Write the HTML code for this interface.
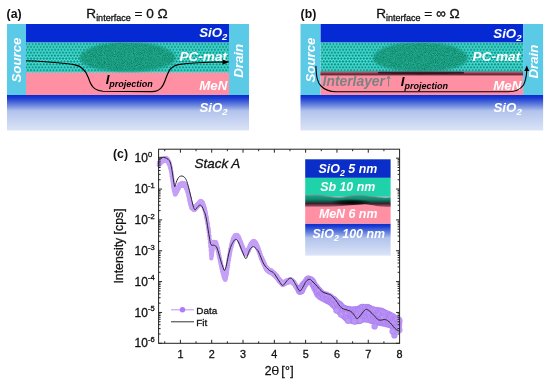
<!DOCTYPE html><html><head><meta charset="utf-8"><style>html,body{margin:0;padding:0;background:#fff;width:550px;height:383px;overflow:hidden}svg{display:block;will-change:transform}.t{stroke:#111;stroke-width:0.3px}</style></head><body>
<svg width="550" height="383" viewBox="0 0 550 383" font-family="Liberation Sans, sans-serif">
<defs>
<pattern id="dots" patternUnits="userSpaceOnUse" x="27.8" y="42.6" width="3.2" height="5.8"><rect width="3.2" height="5.8" fill="#5ee6e4"/><circle cx="1.6" cy="1.4" r="1.2" fill="#009684"/><circle cx="0" cy="4.3" r="1.2" fill="#009684"/><circle cx="3.2" cy="4.3" r="1.2" fill="#009684"/></pattern>
<linearGradient id="sio2" x1="0" y1="0" x2="0" y2="1"><stop offset="0" stop-color="#0a2ccf"/><stop offset="0.08" stop-color="#1a3ad2"/><stop offset="0.25" stop-color="#5a78dc"/><stop offset="0.45" stop-color="#b2c3ec"/><stop offset="1" stop-color="#dbe4f7"/></linearGradient>
<linearGradient id="inter" x1="0" y1="0" x2="0" y2="1"><stop offset="0" stop-color="#8a6478"/><stop offset="0.22" stop-color="#a8566a"/><stop offset="0.5" stop-color="#7a3444"/><stop offset="0.78" stop-color="#5e2836"/><stop offset="1" stop-color="#d07488"/></linearGradient>
<linearGradient id="darkband" x1="0" y1="0" x2="0" y2="1"><stop offset="0" stop-color="#18aa8a"/><stop offset="0.35" stop-color="#12886e"/><stop offset="0.56" stop-color="#0c5646"/><stop offset="0.7" stop-color="#3a2028"/><stop offset="0.85" stop-color="#7a3a50"/><stop offset="1" stop-color="#c06a80"/></linearGradient>
<radialGradient id="darkc" cx="0.5" cy="0.5" r="0.5"><stop offset="0" stop-color="#000" stop-opacity="0.95"/><stop offset="0.5" stop-color="#000" stop-opacity="0.6"/><stop offset="1" stop-color="#000" stop-opacity="0"/></radialGradient>
<filter id="noise" x="-0.05" y="-0.2" width="1.1" height="1.4" color-interpolation-filters="sRGB"><feGaussianBlur in="SourceGraphic" stdDeviation="0.8" result="b"/><feTurbulence type="fractalNoise" baseFrequency="1.1" numOctaves="1" seed="5" result="n"/><feColorMatrix in="n" type="matrix" values="0 0 0 0 0.03  0 0 0 0 0.43  0 0 0 0 0.35  2.2 0 0 0 -0.95" result="d"/><feColorMatrix in="n" type="matrix" values="0 0 0 0 0.2  0 0 0 0 0.74  0 0 0 0 0.62  0 2.2 0 0 -1.05" result="l"/><feComposite in="d" in2="b" operator="in" result="d2"/><feComposite in="l" in2="b" operator="in" result="l2"/><feMerge><feMergeNode in="b"/><feMergeNode in="d2"/><feMergeNode in="l2"/></feMerge></filter>
<marker id="ah" viewBox="0 0 10 10" refX="9" refY="5" markerWidth="6" markerHeight="6" orient="auto-start-reverse" markerUnits="userSpaceOnUse"><path d="M0,0 L10,5 L0,10 z" fill="#000"/></marker>
<clipPath id="tealclip"><rect x="0" y="42.6" width="550" height="30.1"/></clipPath>
</defs>
<rect x="26" y="24" width="203" height="18.6" fill="#052ad4"/>
<rect x="26" y="42.6" width="203" height="30.1" fill="url(#dots)"/>
<rect x="26" y="72.7" width="203" height="22.3" fill="#ff90a4"/>
<rect x="7" y="95" width="242" height="35.5" fill="url(#sio2)"/>
<rect x="7" y="24" width="19" height="71" fill="#5acae6"/>
<rect x="229" y="24" width="20" height="71" fill="#5acae6"/>
<rect x="320.4" y="24" width="202.7" height="18.6" fill="#052ad4"/>
<rect x="320.4" y="42.6" width="202.7" height="29.4" fill="url(#dots)"/>
<rect x="320.4" y="72" width="202.7" height="23" fill="#ff90a4"/>
<rect x="300.5" y="95" width="242.6" height="35.5" fill="url(#sio2)"/>
<rect x="300.5" y="24" width="19.9" height="71" fill="#5acae6"/>
<rect x="523.1" y="24" width="20" height="71" fill="#5acae6"/>
<path d="M79.50,57.90 L80.70,54.88 L81.90,53.51 L83.10,52.45 L84.30,51.56 L85.50,50.79 L86.70,50.09 L87.90,49.47 L89.10,48.89 L90.30,48.36 L91.50,47.87 L92.70,47.42 L93.90,46.99 L95.10,46.59 L96.30,46.22 L97.50,45.87 L98.70,45.54 L99.90,45.23 L101.10,44.94 L102.30,44.67 L103.50,44.41 L104.70,44.17 L105.90,43.95 L107.10,43.74 L108.30,43.54 L109.50,43.36 L110.70,43.20 L111.90,43.04 L113.10,42.90 L114.30,42.77 L115.50,42.65 L116.70,42.55 L117.90,42.45 L119.10,42.37 L120.30,42.30 L121.50,42.24 L122.70,42.19 L123.90,42.15 L125.10,42.12 L126.30,42.11 L127.50,42.10 L128.70,42.11 L129.90,42.12 L131.10,42.15 L132.30,42.19 L133.50,42.24 L134.70,42.30 L135.90,42.37 L137.10,42.45 L138.30,42.55 L139.50,42.65 L140.70,42.77 L141.90,42.90 L143.10,43.04 L144.30,43.20 L145.50,43.36 L146.70,43.54 L147.90,43.74 L149.10,43.95 L150.30,44.17 L151.50,44.41 L152.70,44.67 L153.90,44.94 L155.10,45.23 L156.30,45.54 L157.50,45.87 L158.70,46.22 L159.90,46.59 L161.10,46.99 L162.30,47.42 L163.50,47.87 L164.70,48.36 L165.90,48.89 L167.10,49.47 L168.30,50.09 L169.50,50.79 L170.70,51.56 L171.90,52.45 L173.10,53.51 L174.30,54.88 L175.50,57.90 L175.50,57.90 L174.30,60.97 L173.10,62.21 L171.90,63.14 L170.70,63.92 L169.50,64.58 L168.30,65.17 L167.10,65.70 L165.90,66.18 L164.70,66.62 L163.50,67.03 L162.30,67.40 L161.10,67.76 L159.90,68.08 L158.70,68.39 L157.50,68.67 L156.30,68.94 L155.10,69.19 L153.90,69.43 L152.70,69.65 L151.50,69.85 L150.30,70.04 L149.10,70.22 L147.90,70.39 L146.70,70.55 L145.50,70.69 L144.30,70.83 L143.10,70.95 L141.90,71.06 L140.70,71.17 L139.50,71.26 L138.30,71.35 L137.10,71.42 L135.90,71.49 L134.70,71.54 L133.50,71.59 L132.30,71.60 L131.10,71.60 L129.90,71.60 L128.70,71.60 L127.50,71.60 L126.30,71.60 L125.10,71.60 L123.90,71.60 L122.70,71.60 L121.50,71.59 L120.30,71.54 L119.10,71.49 L117.90,71.42 L116.70,71.35 L115.50,71.26 L114.30,71.17 L113.10,71.06 L111.90,70.95 L110.70,70.83 L109.50,70.69 L108.30,70.55 L107.10,70.39 L105.90,70.22 L104.70,70.04 L103.50,69.85 L102.30,69.65 L101.10,69.43 L99.90,69.19 L98.70,68.94 L97.50,68.67 L96.30,68.39 L95.10,68.08 L93.90,67.76 L92.70,67.40 L91.50,67.03 L90.30,66.62 L89.10,66.18 L87.90,65.70 L86.70,65.17 L85.50,64.58 L84.30,63.92 L83.10,63.14 L81.90,62.21 L80.70,60.97 L79.50,57.90 Z" fill="#1aa084" clip-path="url(#tealclip)" filter="url(#noise)"/>
<path d="M373.30,57.90 L374.48,54.88 L375.66,53.51 L376.84,52.45 L378.02,51.56 L379.20,50.79 L380.38,50.09 L381.56,49.47 L382.74,48.89 L383.92,48.36 L385.10,47.87 L386.28,47.42 L387.46,46.99 L388.64,46.59 L389.82,46.22 L391.00,45.87 L392.18,45.54 L393.36,45.23 L394.54,44.94 L395.72,44.67 L396.90,44.41 L398.08,44.17 L399.26,43.95 L400.44,43.74 L401.62,43.54 L402.80,43.36 L403.98,43.20 L405.16,43.04 L406.34,42.90 L407.52,42.77 L408.70,42.65 L409.88,42.55 L411.06,42.45 L412.24,42.37 L413.42,42.30 L414.60,42.24 L415.78,42.19 L416.96,42.15 L418.14,42.12 L419.32,42.11 L420.50,42.10 L421.68,42.11 L422.86,42.12 L424.04,42.15 L425.22,42.19 L426.40,42.24 L427.58,42.30 L428.76,42.37 L429.94,42.45 L431.12,42.55 L432.30,42.65 L433.48,42.77 L434.66,42.90 L435.84,43.04 L437.02,43.20 L438.20,43.36 L439.38,43.54 L440.56,43.74 L441.74,43.95 L442.92,44.17 L444.10,44.41 L445.28,44.67 L446.46,44.94 L447.64,45.23 L448.82,45.54 L450.00,45.87 L451.18,46.22 L452.36,46.59 L453.54,46.99 L454.72,47.42 L455.90,47.87 L457.08,48.36 L458.26,48.89 L459.44,49.47 L460.62,50.09 L461.80,50.79 L462.98,51.56 L464.16,52.45 L465.34,53.51 L466.52,54.88 L467.70,57.90 L467.70,57.90 L466.52,60.97 L465.34,62.21 L464.16,63.14 L462.98,63.92 L461.80,64.58 L460.62,65.17 L459.44,65.70 L458.26,66.18 L457.08,66.62 L455.90,67.03 L454.72,67.40 L453.54,67.76 L452.36,68.08 L451.18,68.39 L450.00,68.67 L448.82,68.94 L447.64,69.19 L446.46,69.43 L445.28,69.65 L444.10,69.85 L442.92,70.04 L441.74,70.22 L440.56,70.39 L439.38,70.55 L438.20,70.69 L437.02,70.83 L435.84,70.95 L434.66,71.06 L433.48,71.17 L432.30,71.26 L431.12,71.35 L429.94,71.42 L428.76,71.49 L427.58,71.54 L426.40,71.59 L425.22,71.63 L424.04,71.66 L422.86,71.68 L421.68,71.70 L420.50,71.70 L419.32,71.70 L418.14,71.68 L416.96,71.66 L415.78,71.63 L414.60,71.59 L413.42,71.54 L412.24,71.49 L411.06,71.42 L409.88,71.35 L408.70,71.26 L407.52,71.17 L406.34,71.06 L405.16,70.95 L403.98,70.83 L402.80,70.69 L401.62,70.55 L400.44,70.39 L399.26,70.22 L398.08,70.04 L396.90,69.85 L395.72,69.65 L394.54,69.43 L393.36,69.19 L392.18,68.94 L391.00,68.67 L389.82,68.39 L388.64,68.08 L387.46,67.76 L386.28,67.40 L385.10,67.03 L383.92,66.62 L382.74,66.18 L381.56,65.70 L380.38,65.17 L379.20,64.58 L378.02,63.92 L376.84,63.14 L375.66,62.21 L374.48,60.97 L373.30,57.90 Z" fill="#1aa084" clip-path="url(#tealclip)" filter="url(#noise)"/>
<rect x="320.4" y="71.4" width="202.7" height="4.4" fill="url(#inter)"/>
<path d="M378,72 C392,71.8 448,71.8 464,72 L464,73.6 C448,74.4 392,74.4 378,73.6 Z" fill="#1a0a10" opacity="0.75"/>
<text x="199.2" y="37.4" font-size="13.3" font-weight="bold" font-style="italic" fill="#fff">SiO<tspan font-size="9.576" dy="3">2</tspan></text>
<text x="179.4" y="60.6" font-size="13.6" font-weight="bold" font-style="italic" fill="#fff">PC-mat</text>
<text x="199.3" y="90" font-size="13.3" font-weight="bold" font-style="italic" fill="#fff">MeN</text>
<text x="199.4" y="111.8" font-size="13.3" font-weight="bold" font-style="italic" fill="#fff">SiO<tspan font-size="9.576" dy="3">2</tspan></text>
<text transform="translate(20.5,82.6) rotate(-90)" font-size="13.3" font-weight="bold" font-style="italic" fill="#fff">Source</text>
<text transform="translate(243,77.8) rotate(-90)" font-size="13.3" font-weight="bold" font-style="italic" fill="#fff">Drain</text>
<text x="493.3" y="37.6" font-size="13.3" font-weight="bold" font-style="italic" fill="#fff">SiO<tspan font-size="9.576" dy="3">2</tspan></text>
<text x="472.6" y="60.8" font-size="13.6" font-weight="bold" font-style="italic" fill="#fff">PC-mat</text>
<text x="493.3" y="90" font-size="13.3" font-weight="bold" font-style="italic" fill="#fff">MeN</text>
<text x="493.5" y="112.2" font-size="13.3" font-weight="bold" font-style="italic" fill="#fff">SiO<tspan font-size="9.576" dy="3">2</tspan></text>
<text transform="translate(314.5,82.6) rotate(-90)" font-size="13.3" font-weight="bold" font-style="italic" fill="#fff">Source</text>
<text transform="translate(537.8,78.6) rotate(-90)" font-size="13.3" font-weight="bold" font-style="italic" fill="#fff">Drain</text>
<text x="322.6" y="85.8" font-size="13.85" font-weight="bold" font-style="italic" fill="#7c8282">Interlayer</text>
<path d="M388.6,86.5 L388.6,76.5 M386.9,79 L388.6,75.8 L390.3,79" stroke="#7c8282" stroke-width="1" fill="none"/>
<text x="105.65" y="83.8" font-size="13.3" font-weight="bold" font-style="italic" fill="#000">I<tspan font-size="9.0" dy="3.1">projection</tspan></text>
<text x="400.7" y="85.9" font-size="13.3" font-weight="bold" font-style="italic" fill="#000">I<tspan font-size="9.0" dy="3">projection</tspan></text>
<path d="M26,60.8 C45,61.6 64,63 74,64.6 C82,66 86,70 88.5,78 C91,86 94,90.6 103,91.2 L152,91.6 C160,91.4 163,87 166,78 C169,70 171,66.2 178,64.6 C190,63 208,62.2 224,62" stroke="#000" stroke-width="1.15" fill="none"/>
<path d="M222.5,59.4 L229.6,62 L222.5,64.6 z" fill="#000"/>
<path d="M315.9,66 C316.3,76 317,82 321,86 C324,89.2 328,91.6 336,91.8 L508,91.8 C516,91.8 520,90 523.5,85 C526,80 526.6,75 526.8,70" stroke="#000" stroke-width="1.1" fill="none"/>
<path d="M524.3,71 L526.8,65.6 L529.2,71 z" fill="#000"/>
<text x="6.6" y="18.4" font-size="12.3" font-weight="bold" fill="#111">(a)</text>
<text x="300.6" y="18.4" font-size="12.3" font-weight="bold" fill="#111">(b)</text>
<text x="86.3" y="17.8" font-size="13.6" fill="#111" class="t">R<tspan font-size="9" dy="2.7">interface</tspan><tspan dy="-2.7"> = 0 Ω</tspan></text>
<text x="376.2" y="17.8" font-size="13.6" fill="#111" class="t">R<tspan font-size="9" dy="2.7">interface</tspan><tspan dy="-2.7"> = ∞ Ω</tspan></text>
<g fill="#c5a0f7">
<circle cx="158.8" cy="162.9" r="2.1"/>
<circle cx="158.8" cy="165.3" r="2.1"/>
<circle cx="159.2" cy="162.5" r="2.1"/>
<circle cx="159.2" cy="164.9" r="2.1"/>
<circle cx="159.5" cy="162.1" r="2.1"/>
<circle cx="159.5" cy="164.5" r="2.1"/>
<circle cx="159.8" cy="161.7" r="2.1"/>
<circle cx="159.8" cy="164.1" r="2.1"/>
<circle cx="160.2" cy="161.3" r="2.1"/>
<circle cx="160.2" cy="163.7" r="2.1"/>
<circle cx="160.5" cy="160.9" r="2.1"/>
<circle cx="160.5" cy="163.3" r="2.1"/>
<circle cx="160.9" cy="160.5" r="2.1"/>
<circle cx="160.9" cy="162.9" r="2.1"/>
<circle cx="161.2" cy="160.1" r="2.1"/>
<circle cx="161.2" cy="162.5" r="2.1"/>
<circle cx="161.6" cy="159.7" r="2.1"/>
<circle cx="161.6" cy="162.1" r="2.1"/>
<circle cx="161.9" cy="159.6" r="2.1"/>
<circle cx="161.9" cy="162.0" r="2.1"/>
<circle cx="162.3" cy="159.4" r="2.1"/>
<circle cx="162.3" cy="161.8" r="2.1"/>
<circle cx="162.6" cy="159.2" r="2.1"/>
<circle cx="162.6" cy="161.6" r="2.1"/>
<circle cx="163.0" cy="159.0" r="2.1"/>
<circle cx="163.0" cy="161.4" r="2.1"/>
<circle cx="163.3" cy="158.8" r="2.1"/>
<circle cx="163.3" cy="161.2" r="2.1"/>
<circle cx="163.7" cy="158.7" r="2.1"/>
<circle cx="163.7" cy="161.1" r="2.1"/>
<circle cx="164.0" cy="158.5" r="2.1"/>
<circle cx="164.0" cy="160.9" r="2.1"/>
<circle cx="164.4" cy="158.3" r="2.1"/>
<circle cx="164.4" cy="160.7" r="2.1"/>
<circle cx="164.7" cy="158.1" r="2.1"/>
<circle cx="164.7" cy="160.5" r="2.1"/>
<circle cx="165.1" cy="158.0" r="2.1"/>
<circle cx="165.1" cy="160.4" r="2.1"/>
<circle cx="165.4" cy="158.1" r="2.1"/>
<circle cx="165.4" cy="160.5" r="2.1"/>
<circle cx="165.8" cy="158.3" r="2.1"/>
<circle cx="165.8" cy="160.7" r="2.1"/>
<circle cx="166.1" cy="158.4" r="2.1"/>
<circle cx="166.1" cy="160.8" r="2.1"/>
<circle cx="166.5" cy="158.5" r="2.1"/>
<circle cx="166.5" cy="160.9" r="2.1"/>
<circle cx="166.8" cy="158.6" r="2.1"/>
<circle cx="166.8" cy="161.0" r="2.1"/>
<circle cx="167.2" cy="158.7" r="2.1"/>
<circle cx="167.2" cy="161.1" r="2.1"/>
<circle cx="167.5" cy="158.9" r="2.1"/>
<circle cx="167.5" cy="161.3" r="2.1"/>
<circle cx="167.9" cy="159.6" r="2.1"/>
<circle cx="167.9" cy="162.0" r="2.1"/>
<circle cx="168.2" cy="160.3" r="2.1"/>
<circle cx="168.2" cy="162.7" r="2.1"/>
<circle cx="168.6" cy="161.0" r="2.1"/>
<circle cx="168.6" cy="163.4" r="2.1"/>
<circle cx="168.9" cy="161.7" r="2.1"/>
<circle cx="168.9" cy="164.1" r="2.1"/>
<circle cx="169.3" cy="162.4" r="2.1"/>
<circle cx="169.3" cy="164.8" r="2.1"/>
<circle cx="169.6" cy="163.4" r="2.1"/>
<circle cx="169.6" cy="165.8" r="2.1"/>
<circle cx="170.0" cy="164.8" r="2.1"/>
<circle cx="170.0" cy="167.2" r="2.1"/>
<circle cx="170.3" cy="166.2" r="2.1"/>
<circle cx="170.3" cy="168.6" r="2.1"/>
<circle cx="170.7" cy="167.6" r="2.1"/>
<circle cx="170.7" cy="170.0" r="2.1"/>
<circle cx="171.0" cy="169.1" r="2.1"/>
<circle cx="171.0" cy="171.5" r="2.1"/>
<circle cx="171.4" cy="171.5" r="2.1"/>
<circle cx="171.4" cy="173.9" r="2.1"/>
<circle cx="171.7" cy="173.8" r="2.1"/>
<circle cx="171.7" cy="176.2" r="2.1"/>
<circle cx="172.1" cy="176.1" r="2.1"/>
<circle cx="172.1" cy="178.5" r="2.1"/>
<circle cx="172.4" cy="178.7" r="2.1"/>
<circle cx="172.4" cy="181.1" r="2.1"/>
<circle cx="172.8" cy="181.4" r="2.1"/>
<circle cx="172.8" cy="183.8" r="2.1"/>
<circle cx="173.1" cy="184.1" r="2.1"/>
<circle cx="173.1" cy="186.5" r="2.1"/>
<circle cx="173.5" cy="186.1" r="2.1"/>
<circle cx="173.5" cy="188.5" r="2.1"/>
<circle cx="173.8" cy="187.5" r="2.1"/>
<circle cx="173.8" cy="189.9" r="2.1"/>
<circle cx="174.2" cy="188.9" r="2.1"/>
<circle cx="174.2" cy="191.3" r="2.1"/>
<circle cx="174.5" cy="190.4" r="2.1"/>
<circle cx="174.5" cy="192.8" r="2.1"/>
<circle cx="174.9" cy="191.8" r="2.1"/>
<circle cx="174.9" cy="194.2" r="2.1"/>
<circle cx="175.2" cy="192.3" r="2.1"/>
<circle cx="175.2" cy="194.7" r="2.1"/>
<circle cx="175.6" cy="191.7" r="2.1"/>
<circle cx="175.6" cy="194.1" r="2.1"/>
<circle cx="175.9" cy="191.1" r="2.1"/>
<circle cx="175.9" cy="193.5" r="2.1"/>
<circle cx="176.3" cy="190.5" r="2.1"/>
<circle cx="176.3" cy="192.9" r="2.1"/>
<circle cx="176.6" cy="189.9" r="2.1"/>
<circle cx="176.6" cy="192.3" r="2.1"/>
<circle cx="177.0" cy="189.3" r="2.1"/>
<circle cx="177.0" cy="191.7" r="2.1"/>
<circle cx="177.3" cy="188.6" r="2.1"/>
<circle cx="177.3" cy="191.0" r="2.1"/>
<circle cx="177.7" cy="187.9" r="2.1"/>
<circle cx="177.7" cy="190.3" r="2.1"/>
<circle cx="178.0" cy="187.2" r="2.1"/>
<circle cx="178.0" cy="189.6" r="2.1"/>
<circle cx="178.4" cy="186.5" r="2.1"/>
<circle cx="178.4" cy="188.9" r="2.1"/>
<circle cx="178.7" cy="185.8" r="2.1"/>
<circle cx="178.7" cy="188.2" r="2.1"/>
<circle cx="179.1" cy="185.1" r="2.1"/>
<circle cx="179.1" cy="187.5" r="2.1"/>
<circle cx="179.4" cy="184.4" r="2.1"/>
<circle cx="179.4" cy="186.8" r="2.1"/>
<circle cx="179.8" cy="184.2" r="2.1"/>
<circle cx="179.8" cy="186.6" r="2.1"/>
<circle cx="180.1" cy="184.0" r="2.1"/>
<circle cx="180.1" cy="186.4" r="2.1"/>
<circle cx="180.5" cy="183.8" r="2.1"/>
<circle cx="180.5" cy="186.2" r="2.1"/>
<circle cx="180.8" cy="183.6" r="2.1"/>
<circle cx="180.8" cy="186.0" r="2.1"/>
<circle cx="181.2" cy="183.5" r="2.1"/>
<circle cx="181.2" cy="185.9" r="2.1"/>
<circle cx="181.5" cy="183.3" r="2.1"/>
<circle cx="181.5" cy="185.7" r="2.1"/>
<circle cx="181.9" cy="183.1" r="2.1"/>
<circle cx="181.9" cy="185.5" r="2.1"/>
<circle cx="182.2" cy="182.9" r="2.1"/>
<circle cx="182.2" cy="185.3" r="2.1"/>
<circle cx="182.6" cy="182.8" r="2.1"/>
<circle cx="182.6" cy="185.2" r="2.1"/>
<circle cx="182.9" cy="183.0" r="2.1"/>
<circle cx="182.9" cy="185.4" r="2.1"/>
<circle cx="183.3" cy="183.1" r="2.1"/>
<circle cx="183.3" cy="185.5" r="2.1"/>
<circle cx="183.6" cy="183.3" r="2.1"/>
<circle cx="183.6" cy="185.7" r="2.1"/>
<circle cx="184.0" cy="183.4" r="2.1"/>
<circle cx="184.0" cy="185.8" r="2.1"/>
<circle cx="184.3" cy="183.5" r="2.1"/>
<circle cx="184.3" cy="185.9" r="2.1"/>
<circle cx="184.7" cy="183.7" r="2.1"/>
<circle cx="184.7" cy="186.1" r="2.1"/>
<circle cx="185.0" cy="183.9" r="2.1"/>
<circle cx="185.0" cy="186.3" r="2.1"/>
<circle cx="185.4" cy="184.6" r="2.1"/>
<circle cx="185.4" cy="187.0" r="2.1"/>
<circle cx="185.7" cy="185.3" r="2.1"/>
<circle cx="185.7" cy="187.7" r="2.1"/>
<circle cx="186.1" cy="186.0" r="2.1"/>
<circle cx="186.1" cy="188.4" r="2.1"/>
<circle cx="186.4" cy="186.7" r="2.1"/>
<circle cx="186.4" cy="189.1" r="2.1"/>
<circle cx="186.8" cy="187.4" r="2.1"/>
<circle cx="186.8" cy="189.8" r="2.1"/>
<circle cx="187.1" cy="188.4" r="2.1"/>
<circle cx="187.1" cy="190.8" r="2.1"/>
<circle cx="187.5" cy="189.8" r="2.1"/>
<circle cx="187.5" cy="192.2" r="2.1"/>
<circle cx="187.8" cy="191.2" r="2.1"/>
<circle cx="187.8" cy="193.6" r="2.1"/>
<circle cx="188.2" cy="192.6" r="2.1"/>
<circle cx="188.2" cy="195.0" r="2.1"/>
<circle cx="188.5" cy="194.0" r="2.1"/>
<circle cx="188.5" cy="196.4" r="2.1"/>
<circle cx="188.9" cy="195.7" r="2.1"/>
<circle cx="188.9" cy="198.1" r="2.1"/>
<circle cx="189.2" cy="197.3" r="2.1"/>
<circle cx="189.2" cy="199.7" r="2.1"/>
<circle cx="189.6" cy="198.9" r="2.1"/>
<circle cx="189.6" cy="201.3" r="2.1"/>
<circle cx="189.9" cy="200.6" r="2.1"/>
<circle cx="189.9" cy="203.0" r="2.1"/>
<circle cx="190.3" cy="201.8" r="2.1"/>
<circle cx="190.3" cy="204.2" r="2.1"/>
<circle cx="190.6" cy="203.0" r="2.1"/>
<circle cx="190.6" cy="205.4" r="2.1"/>
<circle cx="191.0" cy="204.1" r="2.1"/>
<circle cx="191.0" cy="206.5" r="2.1"/>
<circle cx="191.3" cy="205.3" r="2.1"/>
<circle cx="191.3" cy="207.7" r="2.1"/>
<circle cx="191.7" cy="205.9" r="2.1"/>
<circle cx="191.7" cy="208.3" r="2.1"/>
<circle cx="192.0" cy="206.2" r="2.1"/>
<circle cx="192.0" cy="208.6" r="2.1"/>
<circle cx="192.4" cy="206.4" r="2.1"/>
<circle cx="192.4" cy="208.8" r="2.1"/>
<circle cx="192.7" cy="206.7" r="2.1"/>
<circle cx="192.7" cy="209.1" r="2.1"/>
<circle cx="193.1" cy="206.9" r="2.1"/>
<circle cx="193.1" cy="209.3" r="2.1"/>
<circle cx="193.4" cy="207.1" r="2.1"/>
<circle cx="193.4" cy="209.5" r="2.1"/>
<circle cx="193.8" cy="207.4" r="2.1"/>
<circle cx="193.8" cy="209.8" r="2.1"/>
<circle cx="194.1" cy="207.6" r="2.1"/>
<circle cx="194.1" cy="210.0" r="2.1"/>
<circle cx="194.5" cy="207.7" r="2.1"/>
<circle cx="194.5" cy="210.1" r="2.1"/>
<circle cx="194.8" cy="207.3" r="2.1"/>
<circle cx="194.8" cy="209.7" r="2.1"/>
<circle cx="195.2" cy="206.9" r="2.1"/>
<circle cx="195.2" cy="209.3" r="2.1"/>
<circle cx="195.5" cy="206.5" r="2.1"/>
<circle cx="195.5" cy="208.9" r="2.1"/>
<circle cx="195.9" cy="206.1" r="2.1"/>
<circle cx="195.9" cy="208.5" r="2.1"/>
<circle cx="196.2" cy="205.7" r="2.1"/>
<circle cx="196.2" cy="208.1" r="2.1"/>
<circle cx="196.6" cy="205.3" r="2.1"/>
<circle cx="196.6" cy="207.7" r="2.1"/>
<circle cx="196.9" cy="204.9" r="2.1"/>
<circle cx="196.9" cy="207.3" r="2.1"/>
<circle cx="197.3" cy="204.5" r="2.1"/>
<circle cx="197.3" cy="206.9" r="2.1"/>
<circle cx="197.6" cy="204.1" r="2.1"/>
<circle cx="197.6" cy="206.5" r="2.1"/>
<circle cx="198.0" cy="203.8" r="2.1"/>
<circle cx="198.0" cy="206.2" r="2.1"/>
<circle cx="198.3" cy="203.4" r="2.1"/>
<circle cx="198.3" cy="205.8" r="2.1"/>
<circle cx="198.7" cy="203.0" r="2.1"/>
<circle cx="198.7" cy="205.4" r="2.1"/>
<circle cx="199.0" cy="202.6" r="2.1"/>
<circle cx="199.0" cy="205.0" r="2.1"/>
<circle cx="199.4" cy="202.2" r="2.1"/>
<circle cx="199.4" cy="204.6" r="2.1"/>
<circle cx="199.7" cy="201.8" r="2.1"/>
<circle cx="199.7" cy="204.2" r="2.1"/>
<circle cx="200.1" cy="201.5" r="2.1"/>
<circle cx="200.1" cy="203.9" r="2.1"/>
<circle cx="200.4" cy="201.1" r="2.1"/>
<circle cx="200.4" cy="203.5" r="2.1"/>
<circle cx="200.8" cy="200.9" r="2.1"/>
<circle cx="200.8" cy="203.3" r="2.1"/>
<circle cx="201.1" cy="201.2" r="2.1"/>
<circle cx="201.1" cy="203.6" r="2.1"/>
<circle cx="201.5" cy="201.5" r="2.1"/>
<circle cx="201.5" cy="203.9" r="2.1"/>
<circle cx="201.8" cy="201.8" r="2.1"/>
<circle cx="201.8" cy="204.2" r="2.1"/>
<circle cx="202.2" cy="202.1" r="2.1"/>
<circle cx="202.2" cy="204.5" r="2.1"/>
<circle cx="202.5" cy="202.4" r="2.1"/>
<circle cx="202.5" cy="204.8" r="2.1"/>
<circle cx="202.9" cy="202.7" r="2.1"/>
<circle cx="202.9" cy="205.1" r="2.1"/>
<circle cx="203.2" cy="203.5" r="2.1"/>
<circle cx="203.2" cy="205.9" r="2.1"/>
<circle cx="203.6" cy="204.6" r="2.1"/>
<circle cx="203.6" cy="207.0" r="2.1"/>
<circle cx="203.9" cy="205.6" r="2.1"/>
<circle cx="203.9" cy="208.0" r="2.1"/>
<circle cx="204.3" cy="206.7" r="2.1"/>
<circle cx="204.3" cy="209.1" r="2.1"/>
<circle cx="204.6" cy="207.7" r="2.1"/>
<circle cx="204.6" cy="210.1" r="2.1"/>
<circle cx="205.0" cy="208.8" r="2.1"/>
<circle cx="205.0" cy="211.2" r="2.1"/>
<circle cx="205.3" cy="210.5" r="2.1"/>
<circle cx="205.3" cy="212.9" r="2.1"/>
<circle cx="205.7" cy="212.3" r="2.1"/>
<circle cx="205.7" cy="214.7" r="2.1"/>
<circle cx="206.0" cy="214.0" r="2.1"/>
<circle cx="206.0" cy="216.4" r="2.1"/>
<circle cx="206.4" cy="215.8" r="2.1"/>
<circle cx="206.4" cy="218.2" r="2.1"/>
<circle cx="206.7" cy="217.5" r="2.1"/>
<circle cx="206.7" cy="219.9" r="2.1"/>
<circle cx="207.1" cy="219.4" r="2.1"/>
<circle cx="207.1" cy="221.8" r="2.1"/>
<circle cx="207.4" cy="221.5" r="2.1"/>
<circle cx="207.4" cy="223.9" r="2.1"/>
<circle cx="207.8" cy="223.6" r="2.1"/>
<circle cx="207.8" cy="226.0" r="2.1"/>
<circle cx="208.1" cy="225.7" r="2.1"/>
<circle cx="208.1" cy="228.1" r="2.1"/>
<circle cx="208.5" cy="227.8" r="2.1"/>
<circle cx="208.5" cy="230.2" r="2.1"/>
<circle cx="208.8" cy="229.9" r="2.1"/>
<circle cx="208.8" cy="232.3" r="2.1"/>
<circle cx="209.2" cy="232.8" r="2.1"/>
<circle cx="209.2" cy="235.2" r="2.1"/>
<circle cx="209.5" cy="236.3" r="2.1"/>
<circle cx="209.5" cy="238.7" r="2.1"/>
<circle cx="209.9" cy="239.8" r="2.1"/>
<circle cx="209.9" cy="242.2" r="2.1"/>
<circle cx="210.2" cy="243.3" r="2.1"/>
<circle cx="210.2" cy="245.7" r="2.1"/>
<circle cx="210.6" cy="247.3" r="2.1"/>
<circle cx="210.6" cy="249.7" r="2.1"/>
<circle cx="210.9" cy="251.6" r="2.1"/>
<circle cx="210.9" cy="254.0" r="2.1"/>
<circle cx="211.3" cy="256.0" r="2.1"/>
<circle cx="211.3" cy="258.4" r="2.1"/>
<circle cx="211.6" cy="254.2" r="2.1"/>
<circle cx="211.6" cy="256.6" r="2.1"/>
<circle cx="212.0" cy="252.4" r="2.1"/>
<circle cx="212.0" cy="254.8" r="2.1"/>
<circle cx="212.3" cy="250.4" r="2.1"/>
<circle cx="212.3" cy="252.8" r="2.1"/>
<circle cx="212.7" cy="247.8" r="2.1"/>
<circle cx="212.7" cy="250.2" r="2.1"/>
<circle cx="213.0" cy="245.2" r="2.1"/>
<circle cx="213.0" cy="247.6" r="2.1"/>
<circle cx="213.4" cy="242.6" r="2.1"/>
<circle cx="213.4" cy="245.0" r="2.1"/>
<circle cx="213.7" cy="241.8" r="2.1"/>
<circle cx="213.7" cy="244.2" r="2.1"/>
<circle cx="214.1" cy="241.9" r="2.1"/>
<circle cx="214.1" cy="244.3" r="2.1"/>
<circle cx="214.4" cy="242.0" r="2.1"/>
<circle cx="214.4" cy="244.4" r="2.1"/>
<circle cx="214.8" cy="242.0" r="2.1"/>
<circle cx="214.8" cy="244.4" r="2.1"/>
<circle cx="215.1" cy="242.1" r="2.1"/>
<circle cx="215.1" cy="244.5" r="2.1"/>
<circle cx="215.5" cy="242.2" r="2.1"/>
<circle cx="215.5" cy="244.6" r="2.1"/>
<circle cx="215.8" cy="242.3" r="2.1"/>
<circle cx="215.8" cy="244.7" r="2.1"/>
<circle cx="216.2" cy="242.6" r="2.1"/>
<circle cx="216.2" cy="245.0" r="2.1"/>
<circle cx="216.5" cy="243.8" r="2.1"/>
<circle cx="216.5" cy="246.2" r="2.1"/>
<circle cx="216.9" cy="245.0" r="2.1"/>
<circle cx="216.9" cy="247.4" r="2.1"/>
<circle cx="217.2" cy="246.2" r="2.1"/>
<circle cx="217.2" cy="248.6" r="2.1"/>
<circle cx="217.6" cy="247.4" r="2.1"/>
<circle cx="217.6" cy="249.8" r="2.1"/>
<circle cx="217.9" cy="248.6" r="2.1"/>
<circle cx="217.9" cy="251.0" r="2.1"/>
<circle cx="218.3" cy="250.3" r="2.1"/>
<circle cx="218.3" cy="252.7" r="2.1"/>
<circle cx="218.6" cy="252.0" r="2.1"/>
<circle cx="218.6" cy="254.4" r="2.1"/>
<circle cx="219.0" cy="253.8" r="2.1"/>
<circle cx="219.0" cy="256.2" r="2.1"/>
<circle cx="219.3" cy="255.5" r="2.1"/>
<circle cx="219.3" cy="257.9" r="2.1"/>
<circle cx="219.7" cy="257.3" r="2.1"/>
<circle cx="219.7" cy="259.7" r="2.1"/>
<circle cx="220.0" cy="259.0" r="2.1"/>
<circle cx="220.0" cy="261.4" r="2.1"/>
<circle cx="220.4" cy="260.6" r="2.1"/>
<circle cx="220.4" cy="263.0" r="2.1"/>
<circle cx="220.7" cy="262.2" r="2.1"/>
<circle cx="220.7" cy="264.6" r="2.1"/>
<circle cx="221.1" cy="263.7" r="2.1"/>
<circle cx="221.1" cy="266.1" r="2.1"/>
<circle cx="221.4" cy="265.3" r="2.1"/>
<circle cx="221.4" cy="267.7" r="2.1"/>
<circle cx="221.8" cy="266.9" r="2.1"/>
<circle cx="221.8" cy="269.3" r="2.1"/>
<circle cx="222.1" cy="268.4" r="2.1"/>
<circle cx="222.1" cy="270.8" r="2.1"/>
<circle cx="222.5" cy="269.7" r="2.1"/>
<circle cx="222.5" cy="272.1" r="2.1"/>
<circle cx="222.8" cy="271.0" r="2.1"/>
<circle cx="222.8" cy="273.4" r="2.1"/>
<circle cx="223.2" cy="272.3" r="2.1"/>
<circle cx="223.2" cy="274.7" r="2.1"/>
<circle cx="223.5" cy="273.6" r="2.1"/>
<circle cx="223.5" cy="276.0" r="2.1"/>
<circle cx="223.9" cy="274.9" r="2.1"/>
<circle cx="223.9" cy="277.3" r="2.1"/>
<circle cx="224.2" cy="275.7" r="2.1"/>
<circle cx="224.2" cy="278.1" r="2.1"/>
<circle cx="224.6" cy="276.4" r="2.1"/>
<circle cx="224.6" cy="278.8" r="2.1"/>
<circle cx="224.9" cy="277.0" r="2.1"/>
<circle cx="224.9" cy="279.4" r="2.1"/>
<circle cx="225.3" cy="277.6" r="2.1"/>
<circle cx="225.3" cy="280.0" r="2.1"/>
<circle cx="225.6" cy="276.7" r="2.1"/>
<circle cx="225.6" cy="279.1" r="2.1"/>
<circle cx="226.0" cy="275.2" r="2.1"/>
<circle cx="226.0" cy="277.6" r="2.1"/>
<circle cx="226.3" cy="273.7" r="2.1"/>
<circle cx="226.3" cy="276.1" r="2.1"/>
<circle cx="226.7" cy="272.2" r="2.1"/>
<circle cx="226.7" cy="274.6" r="2.1"/>
<circle cx="227.0" cy="270.1" r="2.1"/>
<circle cx="227.0" cy="272.5" r="2.1"/>
<circle cx="227.4" cy="267.7" r="2.1"/>
<circle cx="227.4" cy="270.1" r="2.1"/>
<circle cx="227.7" cy="265.3" r="2.1"/>
<circle cx="227.7" cy="267.7" r="2.1"/>
<circle cx="228.1" cy="262.9" r="2.1"/>
<circle cx="228.1" cy="265.3" r="2.1"/>
<circle cx="228.4" cy="260.6" r="2.1"/>
<circle cx="228.4" cy="263.0" r="2.1"/>
<circle cx="228.8" cy="258.2" r="2.1"/>
<circle cx="228.8" cy="260.6" r="2.1"/>
<circle cx="229.1" cy="256.0" r="2.1"/>
<circle cx="229.1" cy="258.4" r="2.1"/>
<circle cx="229.5" cy="254.1" r="2.1"/>
<circle cx="229.5" cy="256.5" r="2.1"/>
<circle cx="229.8" cy="252.1" r="2.1"/>
<circle cx="229.8" cy="254.5" r="2.1"/>
<circle cx="230.2" cy="250.2" r="2.1"/>
<circle cx="230.2" cy="252.6" r="2.1"/>
<circle cx="230.5" cy="248.3" r="2.1"/>
<circle cx="230.5" cy="250.7" r="2.1"/>
<circle cx="230.9" cy="246.4" r="2.1"/>
<circle cx="230.9" cy="248.8" r="2.1"/>
<circle cx="231.2" cy="244.9" r="2.1"/>
<circle cx="231.2" cy="247.3" r="2.1"/>
<circle cx="231.6" cy="243.7" r="2.1"/>
<circle cx="231.6" cy="246.1" r="2.1"/>
<circle cx="231.9" cy="242.5" r="2.1"/>
<circle cx="231.9" cy="244.9" r="2.1"/>
<circle cx="232.3" cy="241.3" r="2.1"/>
<circle cx="232.3" cy="243.7" r="2.1"/>
<circle cx="232.6" cy="240.0" r="2.1"/>
<circle cx="232.6" cy="242.4" r="2.1"/>
<circle cx="233.0" cy="238.8" r="2.1"/>
<circle cx="233.0" cy="241.2" r="2.1"/>
<circle cx="233.3" cy="238.2" r="2.1"/>
<circle cx="233.3" cy="240.6" r="2.1"/>
<circle cx="233.7" cy="237.6" r="2.1"/>
<circle cx="233.7" cy="240.0" r="2.1"/>
<circle cx="234.0" cy="237.0" r="2.1"/>
<circle cx="234.0" cy="239.4" r="2.1"/>
<circle cx="234.4" cy="236.4" r="2.1"/>
<circle cx="234.4" cy="238.8" r="2.1"/>
<circle cx="234.7" cy="235.7" r="2.1"/>
<circle cx="234.7" cy="238.1" r="2.1"/>
<circle cx="235.1" cy="235.3" r="2.1"/>
<circle cx="235.1" cy="237.7" r="2.1"/>
<circle cx="235.4" cy="235.2" r="2.1"/>
<circle cx="235.4" cy="237.6" r="2.1"/>
<circle cx="235.8" cy="235.1" r="2.1"/>
<circle cx="235.8" cy="237.5" r="2.1"/>
<circle cx="236.1" cy="235.0" r="2.1"/>
<circle cx="236.1" cy="237.4" r="2.1"/>
<circle cx="236.5" cy="234.9" r="2.1"/>
<circle cx="236.5" cy="237.3" r="2.1"/>
<circle cx="236.8" cy="234.8" r="2.1"/>
<circle cx="236.8" cy="237.2" r="2.1"/>
<circle cx="237.2" cy="235.0" r="2.1"/>
<circle cx="237.2" cy="237.4" r="2.1"/>
<circle cx="237.5" cy="235.5" r="2.1"/>
<circle cx="237.5" cy="237.9" r="2.1"/>
<circle cx="237.9" cy="235.9" r="2.1"/>
<circle cx="237.9" cy="238.3" r="2.1"/>
<circle cx="238.2" cy="236.4" r="2.1"/>
<circle cx="238.2" cy="238.8" r="2.1"/>
<circle cx="238.6" cy="236.8" r="2.1"/>
<circle cx="238.6" cy="239.2" r="2.1"/>
<circle cx="238.9" cy="237.2" r="2.1"/>
<circle cx="238.9" cy="239.6" r="2.1"/>
<circle cx="239.3" cy="238.1" r="2.1"/>
<circle cx="239.3" cy="240.5" r="2.1"/>
<circle cx="239.6" cy="239.0" r="2.1"/>
<circle cx="239.6" cy="241.4" r="2.1"/>
<circle cx="240.0" cy="239.9" r="2.1"/>
<circle cx="240.0" cy="242.3" r="2.1"/>
<circle cx="240.3" cy="240.8" r="2.1"/>
<circle cx="240.3" cy="243.2" r="2.1"/>
<circle cx="240.7" cy="241.7" r="2.1"/>
<circle cx="240.7" cy="244.1" r="2.1"/>
<circle cx="241.0" cy="242.6" r="2.1"/>
<circle cx="241.0" cy="245.0" r="2.1"/>
<circle cx="241.4" cy="243.5" r="2.1"/>
<circle cx="241.4" cy="245.9" r="2.1"/>
<circle cx="241.7" cy="244.4" r="2.1"/>
<circle cx="241.7" cy="246.8" r="2.1"/>
<circle cx="242.1" cy="245.2" r="2.1"/>
<circle cx="242.1" cy="247.6" r="2.1"/>
<circle cx="242.4" cy="246.1" r="2.1"/>
<circle cx="242.4" cy="248.5" r="2.1"/>
<circle cx="242.8" cy="246.9" r="2.1"/>
<circle cx="242.8" cy="249.3" r="2.1"/>
<circle cx="243.1" cy="247.8" r="2.1"/>
<circle cx="243.1" cy="250.2" r="2.1"/>
<circle cx="243.5" cy="248.6" r="2.1"/>
<circle cx="243.5" cy="251.0" r="2.1"/>
<circle cx="243.8" cy="249.4" r="2.1"/>
<circle cx="243.8" cy="251.8" r="2.1"/>
<circle cx="244.2" cy="250.0" r="2.1"/>
<circle cx="244.2" cy="252.4" r="2.1"/>
<circle cx="244.5" cy="250.5" r="2.1"/>
<circle cx="244.5" cy="252.9" r="2.1"/>
<circle cx="244.9" cy="250.9" r="2.1"/>
<circle cx="244.9" cy="253.3" r="2.1"/>
<circle cx="245.2" cy="251.4" r="2.1"/>
<circle cx="245.2" cy="253.8" r="2.1"/>
<circle cx="245.6" cy="251.8" r="2.1"/>
<circle cx="245.6" cy="254.2" r="2.1"/>
<circle cx="245.9" cy="252.2" r="2.1"/>
<circle cx="245.9" cy="254.6" r="2.1"/>
<circle cx="246.3" cy="251.9" r="2.1"/>
<circle cx="246.3" cy="254.3" r="2.1"/>
<circle cx="246.6" cy="251.4" r="2.1"/>
<circle cx="246.6" cy="253.8" r="2.1"/>
<circle cx="247.0" cy="250.9" r="2.1"/>
<circle cx="247.0" cy="253.3" r="2.1"/>
<circle cx="247.3" cy="250.4" r="2.1"/>
<circle cx="247.3" cy="252.8" r="2.1"/>
<circle cx="247.7" cy="249.9" r="2.1"/>
<circle cx="247.7" cy="252.3" r="2.1"/>
<circle cx="248.0" cy="249.4" r="2.1"/>
<circle cx="248.0" cy="251.8" r="2.1"/>
<circle cx="248.4" cy="248.9" r="2.1"/>
<circle cx="248.4" cy="251.3" r="2.1"/>
<circle cx="248.7" cy="248.3" r="2.1"/>
<circle cx="248.7" cy="250.7" r="2.1"/>
<circle cx="249.1" cy="247.5" r="2.1"/>
<circle cx="249.1" cy="249.9" r="2.1"/>
<circle cx="249.4" cy="246.7" r="2.1"/>
<circle cx="249.4" cy="249.1" r="2.1"/>
<circle cx="249.8" cy="245.9" r="2.1"/>
<circle cx="249.8" cy="248.3" r="2.1"/>
<circle cx="250.1" cy="245.2" r="2.1"/>
<circle cx="250.1" cy="247.6" r="2.1"/>
<circle cx="250.5" cy="244.4" r="2.1"/>
<circle cx="250.5" cy="246.8" r="2.1"/>
<circle cx="250.8" cy="243.6" r="2.1"/>
<circle cx="250.8" cy="246.0" r="2.1"/>
<circle cx="251.2" cy="243.1" r="2.1"/>
<circle cx="251.2" cy="245.5" r="2.1"/>
<circle cx="251.5" cy="242.8" r="2.1"/>
<circle cx="251.5" cy="245.2" r="2.1"/>
<circle cx="251.9" cy="242.4" r="2.1"/>
<circle cx="251.9" cy="244.8" r="2.1"/>
<circle cx="252.2" cy="242.1" r="2.1"/>
<circle cx="252.2" cy="244.5" r="2.1"/>
<circle cx="252.6" cy="241.8" r="2.1"/>
<circle cx="252.6" cy="244.2" r="2.1"/>
<circle cx="252.9" cy="241.4" r="2.1"/>
<circle cx="252.9" cy="243.8" r="2.1"/>
<circle cx="253.3" cy="241.1" r="2.1"/>
<circle cx="253.3" cy="243.5" r="2.1"/>
<circle cx="253.6" cy="240.8" r="2.1"/>
<circle cx="253.6" cy="243.2" r="2.1"/>
<circle cx="254.0" cy="241.1" r="2.1"/>
<circle cx="254.0" cy="243.5" r="2.1"/>
<circle cx="254.3" cy="241.4" r="2.1"/>
<circle cx="254.3" cy="243.8" r="2.1"/>
<circle cx="254.7" cy="241.7" r="2.1"/>
<circle cx="254.7" cy="244.1" r="2.1"/>
<circle cx="255.0" cy="242.0" r="2.1"/>
<circle cx="255.0" cy="244.4" r="2.1"/>
<circle cx="255.4" cy="242.3" r="2.1"/>
<circle cx="255.4" cy="244.7" r="2.1"/>
<circle cx="255.7" cy="242.6" r="2.1"/>
<circle cx="255.7" cy="245.0" r="2.1"/>
<circle cx="256.1" cy="243.0" r="2.1"/>
<circle cx="256.1" cy="245.4" r="2.1"/>
<circle cx="256.4" cy="243.8" r="2.1"/>
<circle cx="256.4" cy="246.2" r="2.1"/>
<circle cx="256.8" cy="244.6" r="2.1"/>
<circle cx="256.8" cy="247.0" r="2.1"/>
<circle cx="257.1" cy="245.4" r="2.1"/>
<circle cx="257.1" cy="247.8" r="2.1"/>
<circle cx="257.5" cy="246.1" r="2.1"/>
<circle cx="257.5" cy="248.5" r="2.1"/>
<circle cx="257.8" cy="246.9" r="2.1"/>
<circle cx="257.8" cy="249.3" r="2.1"/>
<circle cx="258.2" cy="247.7" r="2.1"/>
<circle cx="258.2" cy="250.1" r="2.1"/>
<circle cx="258.5" cy="248.5" r="2.1"/>
<circle cx="258.5" cy="250.9" r="2.1"/>
<circle cx="258.9" cy="249.4" r="2.1"/>
<circle cx="258.9" cy="251.8" r="2.1"/>
<circle cx="259.2" cy="250.5" r="2.1"/>
<circle cx="259.2" cy="252.9" r="2.1"/>
<circle cx="259.6" cy="251.5" r="2.1"/>
<circle cx="259.6" cy="253.9" r="2.1"/>
<circle cx="259.9" cy="252.6" r="2.1"/>
<circle cx="259.9" cy="255.0" r="2.1"/>
<circle cx="260.3" cy="253.7" r="2.1"/>
<circle cx="260.3" cy="256.1" r="2.1"/>
<circle cx="260.6" cy="254.7" r="2.1"/>
<circle cx="260.6" cy="257.1" r="2.1"/>
<circle cx="261.0" cy="255.8" r="2.1"/>
<circle cx="261.0" cy="258.2" r="2.1"/>
<circle cx="261.3" cy="256.5" r="2.1"/>
<circle cx="261.3" cy="258.9" r="2.1"/>
<circle cx="261.7" cy="257.3" r="2.1"/>
<circle cx="261.7" cy="259.7" r="2.1"/>
<circle cx="262.0" cy="258.0" r="2.1"/>
<circle cx="262.0" cy="260.4" r="2.1"/>
<circle cx="262.4" cy="258.8" r="2.1"/>
<circle cx="262.4" cy="261.2" r="2.1"/>
<circle cx="262.7" cy="259.5" r="2.1"/>
<circle cx="262.7" cy="261.9" r="2.1"/>
<circle cx="263.1" cy="260.3" r="2.1"/>
<circle cx="263.1" cy="262.7" r="2.1"/>
<circle cx="263.4" cy="261.0" r="2.1"/>
<circle cx="263.4" cy="263.4" r="2.1"/>
<circle cx="263.8" cy="261.8" r="2.1"/>
<circle cx="263.8" cy="264.2" r="2.1"/>
<circle cx="264.1" cy="262.6" r="2.1"/>
<circle cx="264.1" cy="265.0" r="2.1"/>
<circle cx="264.5" cy="263.4" r="2.1"/>
<circle cx="264.5" cy="265.8" r="2.1"/>
<circle cx="264.8" cy="264.2" r="2.1"/>
<circle cx="264.8" cy="266.6" r="2.1"/>
<circle cx="265.2" cy="265.0" r="2.1"/>
<circle cx="265.2" cy="267.4" r="2.1"/>
<circle cx="265.5" cy="265.8" r="2.1"/>
<circle cx="265.5" cy="268.2" r="2.1"/>
<circle cx="265.9" cy="266.6" r="2.1"/>
<circle cx="265.9" cy="269.0" r="2.1"/>
<circle cx="266.2" cy="267.1" r="2.1"/>
<circle cx="266.2" cy="269.5" r="2.1"/>
<circle cx="266.6" cy="267.4" r="2.1"/>
<circle cx="266.6" cy="269.8" r="2.1"/>
<circle cx="266.9" cy="267.8" r="2.1"/>
<circle cx="266.9" cy="270.2" r="2.1"/>
<circle cx="267.3" cy="268.1" r="2.1"/>
<circle cx="267.3" cy="270.5" r="2.1"/>
<circle cx="267.6" cy="268.5" r="2.1"/>
<circle cx="267.6" cy="270.9" r="2.1"/>
<circle cx="268.0" cy="268.9" r="2.1"/>
<circle cx="268.0" cy="271.3" r="2.1"/>
<circle cx="268.3" cy="269.2" r="2.1"/>
<circle cx="268.3" cy="271.6" r="2.1"/>
<circle cx="268.7" cy="269.6" r="2.1"/>
<circle cx="268.7" cy="272.0" r="2.1"/>
<circle cx="269.0" cy="269.8" r="2.1"/>
<circle cx="269.0" cy="272.2" r="2.1"/>
<circle cx="269.4" cy="269.9" r="2.1"/>
<circle cx="269.4" cy="272.3" r="2.1"/>
<circle cx="269.7" cy="270.0" r="2.1"/>
<circle cx="269.7" cy="272.4" r="2.1"/>
<circle cx="270.1" cy="270.1" r="2.1"/>
<circle cx="270.1" cy="272.5" r="2.1"/>
<circle cx="270.4" cy="270.2" r="2.1"/>
<circle cx="270.4" cy="272.6" r="2.1"/>
<circle cx="270.8" cy="270.3" r="2.1"/>
<circle cx="270.8" cy="272.7" r="2.1"/>
<circle cx="271.1" cy="270.4" r="2.1"/>
<circle cx="271.1" cy="272.8" r="2.1"/>
<circle cx="271.5" cy="270.7" r="2.1"/>
<circle cx="271.5" cy="273.1" r="2.1"/>
<circle cx="271.8" cy="271.0" r="2.1"/>
<circle cx="271.8" cy="273.4" r="2.1"/>
<circle cx="272.2" cy="271.3" r="2.1"/>
<circle cx="272.2" cy="273.7" r="2.1"/>
<circle cx="272.5" cy="271.6" r="2.1"/>
<circle cx="272.5" cy="274.0" r="2.1"/>
<circle cx="272.9" cy="271.9" r="2.1"/>
<circle cx="272.9" cy="274.3" r="2.1"/>
<circle cx="273.2" cy="272.2" r="2.1"/>
<circle cx="273.2" cy="274.6" r="2.1"/>
<circle cx="273.6" cy="272.5" r="2.1"/>
<circle cx="273.6" cy="274.9" r="2.1"/>
<circle cx="273.9" cy="272.8" r="2.1"/>
<circle cx="273.9" cy="275.2" r="2.1"/>
<circle cx="274.3" cy="273.1" r="2.1"/>
<circle cx="274.3" cy="275.5" r="2.1"/>
<circle cx="274.6" cy="273.4" r="2.1"/>
<circle cx="274.6" cy="275.8" r="2.1"/>
<circle cx="275.0" cy="273.8" r="2.1"/>
<circle cx="275.0" cy="276.2" r="2.1"/>
<circle cx="275.3" cy="274.1" r="2.1"/>
<circle cx="275.3" cy="276.5" r="2.1"/>
<circle cx="275.7" cy="274.5" r="2.1"/>
<circle cx="275.7" cy="276.9" r="2.1"/>
<circle cx="276.0" cy="274.8" r="2.1"/>
<circle cx="276.0" cy="277.2" r="2.1"/>
<circle cx="276.4" cy="275.2" r="2.1"/>
<circle cx="276.4" cy="277.6" r="2.1"/>
<circle cx="276.7" cy="275.5" r="2.1"/>
<circle cx="276.7" cy="277.9" r="2.1"/>
<circle cx="277.1" cy="275.9" r="2.1"/>
<circle cx="277.1" cy="278.3" r="2.1"/>
<circle cx="277.4" cy="276.5" r="2.1"/>
<circle cx="277.4" cy="278.9" r="2.1"/>
<circle cx="277.8" cy="277.0" r="2.1"/>
<circle cx="277.8" cy="279.4" r="2.1"/>
<circle cx="278.1" cy="277.5" r="2.1"/>
<circle cx="278.1" cy="279.9" r="2.1"/>
<circle cx="278.5" cy="278.0" r="2.1"/>
<circle cx="278.5" cy="280.4" r="2.1"/>
<circle cx="278.8" cy="278.6" r="2.1"/>
<circle cx="278.8" cy="281.0" r="2.1"/>
<circle cx="279.2" cy="279.0" r="2.1"/>
<circle cx="279.2" cy="281.4" r="2.1"/>
<circle cx="279.5" cy="279.4" r="2.1"/>
<circle cx="279.5" cy="281.8" r="2.1"/>
<circle cx="279.9" cy="279.7" r="2.1"/>
<circle cx="279.9" cy="282.1" r="2.1"/>
<circle cx="280.2" cy="280.1" r="2.1"/>
<circle cx="280.2" cy="282.5" r="2.1"/>
<circle cx="280.6" cy="280.5" r="2.1"/>
<circle cx="280.6" cy="282.9" r="2.1"/>
<circle cx="281.0" cy="280.9" r="2.1"/>
<circle cx="281.0" cy="283.3" r="2.1"/>
<circle cx="281.3" cy="281.2" r="2.1"/>
<circle cx="281.3" cy="283.6" r="2.1"/>
<circle cx="281.7" cy="281.6" r="2.1"/>
<circle cx="281.7" cy="284.0" r="2.1"/>
<circle cx="282.0" cy="282.0" r="2.1"/>
<circle cx="282.0" cy="284.4" r="2.1"/>
<circle cx="282.4" cy="282.3" r="2.1"/>
<circle cx="282.4" cy="284.7" r="2.1"/>
<circle cx="282.7" cy="282.7" r="2.1"/>
<circle cx="282.7" cy="285.1" r="2.1"/>
<circle cx="283.1" cy="282.6" r="2.1"/>
<circle cx="283.1" cy="285.0" r="2.1"/>
<circle cx="283.4" cy="282.4" r="2.1"/>
<circle cx="283.4" cy="284.8" r="2.1"/>
<circle cx="283.8" cy="282.2" r="2.1"/>
<circle cx="283.8" cy="284.6" r="2.1"/>
<circle cx="284.1" cy="282.0" r="2.1"/>
<circle cx="284.1" cy="284.4" r="2.1"/>
<circle cx="284.5" cy="281.8" r="2.1"/>
<circle cx="284.5" cy="284.2" r="2.1"/>
<circle cx="284.8" cy="281.5" r="2.1"/>
<circle cx="284.8" cy="283.9" r="2.1"/>
<circle cx="285.2" cy="281.3" r="2.1"/>
<circle cx="285.2" cy="283.7" r="2.1"/>
<circle cx="285.5" cy="281.1" r="2.1"/>
<circle cx="285.5" cy="283.5" r="2.1"/>
<circle cx="285.9" cy="280.9" r="2.1"/>
<circle cx="285.9" cy="283.3" r="2.1"/>
<circle cx="286.2" cy="280.7" r="2.1"/>
<circle cx="286.2" cy="283.1" r="2.1"/>
<circle cx="286.6" cy="280.6" r="2.1"/>
<circle cx="286.6" cy="283.0" r="2.1"/>
<circle cx="286.9" cy="280.5" r="2.1"/>
<circle cx="286.9" cy="282.9" r="2.1"/>
<circle cx="287.3" cy="280.4" r="2.1"/>
<circle cx="287.3" cy="282.8" r="2.1"/>
<circle cx="287.6" cy="280.3" r="2.1"/>
<circle cx="287.6" cy="282.7" r="2.1"/>
<circle cx="288.0" cy="280.2" r="2.1"/>
<circle cx="288.0" cy="282.6" r="2.1"/>
<circle cx="288.3" cy="280.1" r="2.1"/>
<circle cx="288.3" cy="282.5" r="2.1"/>
<circle cx="288.7" cy="280.0" r="2.1"/>
<circle cx="288.7" cy="282.4" r="2.1"/>
<circle cx="289.0" cy="279.8" r="2.1"/>
<circle cx="289.0" cy="282.2" r="2.1"/>
<circle cx="289.4" cy="279.7" r="2.1"/>
<circle cx="289.4" cy="282.1" r="2.1"/>
<circle cx="289.7" cy="279.6" r="2.1"/>
<circle cx="289.7" cy="282.0" r="2.1"/>
<circle cx="290.1" cy="279.5" r="2.1"/>
<circle cx="290.1" cy="281.9" r="2.1"/>
<circle cx="290.4" cy="279.4" r="2.1"/>
<circle cx="290.4" cy="281.8" r="2.1"/>
<circle cx="290.8" cy="279.3" r="2.1"/>
<circle cx="290.8" cy="281.7" r="2.1"/>
<circle cx="291.1" cy="279.6" r="2.1"/>
<circle cx="291.1" cy="282.0" r="2.1"/>
<circle cx="291.5" cy="279.9" r="2.1"/>
<circle cx="291.5" cy="282.3" r="2.1"/>
<circle cx="291.8" cy="280.1" r="2.1"/>
<circle cx="291.8" cy="282.5" r="2.1"/>
<circle cx="292.2" cy="280.4" r="2.1"/>
<circle cx="292.2" cy="282.8" r="2.1"/>
<circle cx="292.5" cy="280.7" r="2.1"/>
<circle cx="292.5" cy="283.1" r="2.1"/>
<circle cx="292.9" cy="280.9" r="2.1"/>
<circle cx="292.9" cy="283.3" r="2.1"/>
<circle cx="293.2" cy="281.2" r="2.1"/>
<circle cx="293.2" cy="283.6" r="2.1"/>
<circle cx="293.6" cy="281.5" r="2.1"/>
<circle cx="293.6" cy="283.9" r="2.1"/>
<circle cx="293.9" cy="281.7" r="2.1"/>
<circle cx="293.9" cy="284.1" r="2.1"/>
<circle cx="294.3" cy="282.2" r="2.1"/>
<circle cx="294.3" cy="284.6" r="2.1"/>
<circle cx="294.6" cy="282.8" r="2.1"/>
<circle cx="294.6" cy="285.2" r="2.1"/>
<circle cx="295.0" cy="283.4" r="2.1"/>
<circle cx="295.0" cy="285.8" r="2.1"/>
<circle cx="295.3" cy="284.0" r="2.1"/>
<circle cx="295.3" cy="286.4" r="2.1"/>
<circle cx="295.7" cy="284.6" r="2.1"/>
<circle cx="295.7" cy="287.0" r="2.1"/>
<circle cx="296.0" cy="285.1" r="2.1"/>
<circle cx="296.0" cy="287.5" r="2.1"/>
<circle cx="296.4" cy="285.7" r="2.1"/>
<circle cx="296.4" cy="288.1" r="2.1"/>
<circle cx="296.7" cy="286.3" r="2.1"/>
<circle cx="296.7" cy="288.7" r="2.1"/>
<circle cx="297.1" cy="286.9" r="2.1"/>
<circle cx="297.1" cy="289.3" r="2.1"/>
<circle cx="297.4" cy="287.2" r="2.1"/>
<circle cx="297.4" cy="289.6" r="2.1"/>
<circle cx="297.8" cy="287.6" r="2.1"/>
<circle cx="297.8" cy="290.0" r="2.1"/>
<circle cx="298.1" cy="288.0" r="2.1"/>
<circle cx="298.1" cy="290.4" r="2.1"/>
<circle cx="298.5" cy="288.4" r="2.1"/>
<circle cx="298.5" cy="290.8" r="2.1"/>
<circle cx="298.8" cy="288.7" r="2.1"/>
<circle cx="298.8" cy="291.1" r="2.1"/>
<circle cx="299.2" cy="289.1" r="2.1"/>
<circle cx="299.2" cy="291.5" r="2.1"/>
<circle cx="299.5" cy="289.5" r="2.1"/>
<circle cx="299.5" cy="291.9" r="2.1"/>
<circle cx="299.9" cy="289.7" r="2.1"/>
<circle cx="299.9" cy="292.1" r="2.1"/>
<circle cx="300.2" cy="289.3" r="2.1"/>
<circle cx="300.2" cy="291.7" r="2.1"/>
<circle cx="300.6" cy="288.9" r="2.1"/>
<circle cx="300.6" cy="291.3" r="2.1"/>
<circle cx="300.9" cy="288.4" r="2.1"/>
<circle cx="300.9" cy="290.8" r="2.1"/>
</g>
<path d="M298.0,286.3 L298.5,286.4 L299.0,286.6 L299.5,286.7 L300.0,286.8 L300.5,286.2 L301.0,285.6 L301.5,285.1 L302.0,284.5 L302.5,283.9 L303.0,283.3 L303.5,282.7 L304.0,282.0 L304.5,281.4 L305.0,280.7 L305.5,280.1 L306.0,279.5 L306.5,278.8 L307.0,278.2 L307.5,277.5 L308.0,276.9 L308.5,277.1 L309.0,277.4 L309.5,277.6 L310.0,277.9 L310.5,278.1 L311.0,278.3 L311.5,278.6 L312.0,278.8 L312.5,279.6 L313.0,280.3 L313.5,281.1 L314.0,281.8 L314.5,282.6 L315.0,283.4 L315.5,284.1 L316.0,284.9 L316.5,285.6 L317.0,286.4 L317.5,287.1 L318.0,287.6 L318.5,288.1 L319.0,288.6 L319.5,289.1 L320.0,289.6 L320.5,290.0 L321.0,290.5 L321.5,291.0 L322.0,291.5 L322.5,292.0 L323.0,292.5 L323.5,292.8 L324.0,292.9 L324.5,293.1 L325.0,293.2 L325.5,293.4 L326.0,293.5 L326.5,293.7 L327.0,293.8 L327.5,294.0 L328.0,294.1 L328.5,294.2 L329.0,294.4 L329.5,294.5 L330.0,294.7 L330.5,294.9 L331.0,295.3 L331.5,295.7 L332.0,296.2 L332.5,296.6 L333.0,297.0 L333.5,297.4 L334.0,297.9 L334.5,298.3 L335.0,298.7 L335.5,299.2 L336.0,299.6 L336.5,300.0 L337.0,300.4 L337.5,300.9 L338.0,301.3 L338.5,301.7 L339.0,302.2 L339.5,302.7 L340.0,303.2 L340.5,303.7 L341.0,304.2 L341.5,304.7 L342.0,305.2 L342.5,305.7 L343.0,306.2 L343.5,306.3 L344.0,306.4 L344.5,306.6 L345.0,306.7 L345.5,306.8 L346.0,306.9 L346.5,307.1 L347.0,307.2 L347.5,307.3 L348.0,307.4 L348.5,307.5 L349.0,307.7 L349.5,307.8 L350.0,307.9 L350.5,308.0 L351.0,308.2 L351.5,308.3 L352.0,308.3 L352.5,308.2 L353.0,308.2 L353.5,308.1 L354.0,308.1 L354.5,308.0 L355.0,308.0 L355.5,307.9 L356.0,307.9 L356.5,307.8 L357.0,307.8 L357.5,307.6 L358.0,307.4 L358.5,307.2 L359.0,307.0 L359.5,306.8 L360.0,306.7 L360.5,306.5 L361.0,306.3 L361.5,306.1 L362.0,305.9 L362.5,305.7 L363.0,305.5 L363.5,305.5 L364.0,305.6 L364.5,305.6 L365.0,305.6 L365.5,305.7 L366.0,305.7 L366.5,305.7 L367.0,305.7 L367.5,305.8 L368.0,305.8 L368.5,306.1 L369.0,306.3 L369.5,306.6 L370.0,306.8 L370.5,307.1 L371.0,307.3 L371.5,307.6 L372.0,307.8 L372.5,308.1 L373.0,308.3 L373.5,308.3 L374.0,308.4 L374.5,308.4 L375.0,308.5 L375.5,308.5 L376.0,308.6 L376.5,308.6 L377.0,308.7 L377.5,308.7 L378.0,308.8 L378.5,308.8 L379.0,308.9 L379.5,308.9 L380.0,309.0 L380.5,309.1 L381.0,309.3 L381.5,309.5 L382.0,309.7 L382.5,310.0 L383.0,310.2 L383.5,310.4 L384.0,310.6 L384.5,310.8 L385.0,311.0 L385.5,311.3 L386.0,311.5 L386.5,311.7 L387.0,311.9 L387.5,312.1 L388.0,312.4 L388.5,312.6 L389.0,312.8 L389.5,313.0 L390.0,313.2 L390.5,313.5 L391.0,313.8 L391.5,314.1 L392.0,314.4 L392.5,314.7 L393.0,315.0 L393.5,315.3 L394.0,315.6 L394.5,315.8 L395.0,316.1 L395.5,316.4 L396.0,316.7 L396.5,317.0 L397.0,317.3 L397.5,317.6 L398.0,317.9 L398.5,318.2 L399.0,318.5 L399.5,318.7 L399.5,331.7 L399.0,331.5 L398.5,331.3 L398.0,331.1 L397.5,330.9 L397.0,330.7 L396.5,330.4 L396.0,330.1 L395.5,329.8 L395.0,329.5 L394.5,329.2 L394.0,328.9 L393.5,328.6 L393.0,328.2 L392.5,327.9 L392.0,327.6 L391.5,327.3 L391.0,327.0 L390.5,326.7 L390.0,326.4 L389.5,326.3 L389.0,326.2 L388.5,326.1 L388.0,326.0 L387.5,325.8 L387.0,325.7 L386.5,325.6 L386.0,325.5 L385.5,325.4 L385.0,325.3 L384.5,325.2 L384.0,325.1 L383.5,325.0 L383.0,324.9 L382.5,324.8 L382.0,324.6 L381.5,324.5 L381.0,324.4 L380.5,324.3 L380.0,324.2 L379.5,324.1 L379.0,324.0 L378.5,323.9 L378.0,323.8 L377.5,323.7 L377.0,323.6 L376.5,323.4 L376.0,323.3 L375.5,323.2 L375.0,323.1 L374.5,323.0 L374.0,322.9 L373.5,322.8 L373.0,322.7 L372.5,322.6 L372.0,322.4 L371.5,322.2 L371.0,322.1 L370.5,321.9 L370.0,321.8 L369.5,321.6 L369.0,321.5 L368.5,321.3 L368.0,321.2 L367.5,321.1 L367.0,321.1 L366.5,321.1 L366.0,321.0 L365.5,320.9 L365.0,320.9 L364.5,320.8 L364.0,320.8 L363.5,320.8 L363.0,320.7 L362.5,320.9 L362.0,321.0 L361.5,321.2 L361.0,321.4 L360.5,321.6 L360.0,321.7 L359.5,321.9 L359.0,322.1 L358.5,322.2 L358.0,322.4 L357.5,322.4 L357.0,322.4 L356.5,322.5 L356.0,322.5 L355.5,322.5 L355.0,322.6 L354.5,322.6 L354.0,322.6 L353.5,322.6 L353.0,322.6 L352.5,322.7 L352.0,322.7 L351.5,322.5 L351.0,322.3 L350.5,322.0 L350.0,321.8 L349.5,321.6 L349.0,321.4 L348.5,321.2 L348.0,320.9 L347.5,320.7 L347.0,320.5 L346.5,320.1 L346.0,319.6 L345.5,319.1 L345.0,318.7 L344.5,318.2 L344.0,317.8 L343.5,317.3 L343.0,316.9 L342.5,316.3 L342.0,315.8 L341.5,315.2 L341.0,314.6 L340.5,314.1 L340.0,313.5 L339.5,312.9 L339.0,312.4 L338.5,311.8 L338.0,311.3 L337.5,310.9 L337.0,310.4 L336.5,309.9 L336.0,309.5 L335.5,309.0 L335.0,308.5 L334.5,308.1 L334.0,307.6 L333.5,307.1 L333.0,306.6 L332.5,306.2 L332.0,305.7 L331.5,305.2 L331.0,304.8 L330.5,304.3 L330.0,304.0 L329.5,303.7 L329.0,303.4 L328.5,303.1 L328.0,302.8 L327.5,302.5 L327.0,302.2 L326.5,301.9 L326.0,301.6 L325.5,301.3 L325.0,301.0 L324.5,300.7 L324.0,300.4 L323.5,300.1 L323.0,299.8 L322.5,299.5 L322.0,299.2 L321.5,298.8 L321.0,298.5 L320.5,298.2 L320.0,297.9 L319.5,297.6 L319.0,297.3 L318.5,297.0 L318.0,296.7 L317.5,296.4 L317.0,295.4 L316.5,294.3 L316.0,293.2 L315.5,292.0 L315.0,290.9 L314.5,289.8 L314.0,288.7 L313.5,287.6 L313.0,286.4 L312.5,285.3 L312.0,284.2 L311.5,283.8 L311.0,283.4 L310.5,283.1 L310.0,282.7 L309.5,282.3 L309.0,281.9 L308.5,281.6 L308.0,281.2 L307.5,282.1 L307.0,283.0 L306.5,283.9 L306.0,284.8 L305.5,285.7 L305.0,286.6 L304.5,287.5 L304.0,288.4 L303.5,289.3 L303.0,290.2 L302.5,290.8 L302.0,291.4 L301.5,291.9 L301.0,292.5 L300.5,293.1 L300.0,293.7 L299.5,293.4 L299.0,293.2 L298.5,292.9 L298.0,292.7 Z" fill="#c4a0f7"/>
<g fill="#c4a0f7" fill-opacity="0.7" stroke="#a274ee" stroke-opacity="0.7" stroke-width="0.6">
<circle cx="299.0" cy="288.2" r="2.9"/>
<circle cx="299.3" cy="291.6" r="2.9"/>
<circle cx="299.0" cy="290.3" r="2.9"/>
<circle cx="299.9" cy="288.3" r="2.9"/>
<circle cx="300.2" cy="291.7" r="2.9"/>
<circle cx="299.7" cy="289.2" r="2.9"/>
<circle cx="301.0" cy="287.3" r="2.9"/>
<circle cx="301.3" cy="291.2" r="2.9"/>
<circle cx="301.7" cy="291.0" r="2.9"/>
<circle cx="302.4" cy="285.8" r="2.9"/>
<circle cx="302.1" cy="289.9" r="2.9"/>
<circle cx="302.3" cy="285.5" r="2.9"/>
<circle cx="303.2" cy="284.1" r="2.9"/>
<circle cx="303.1" cy="287.9" r="2.9"/>
<circle cx="303.3" cy="287.7" r="2.9"/>
<circle cx="304.5" cy="283.1" r="2.9"/>
<circle cx="304.5" cy="285.7" r="2.9"/>
<circle cx="304.5" cy="283.6" r="2.9"/>
<circle cx="305.9" cy="282.1" r="2.9"/>
<circle cx="305.8" cy="283.7" r="2.9"/>
<circle cx="305.4" cy="281.8" r="2.9"/>
<circle cx="306.6" cy="279.7" r="2.9"/>
<circle cx="306.9" cy="282.0" r="2.9"/>
<circle cx="308.0" cy="278.6" r="2.9"/>
<circle cx="308.1" cy="279.6" r="2.9"/>
<circle cx="308.6" cy="278.6" r="2.9"/>
<circle cx="309.1" cy="280.3" r="2.9"/>
<circle cx="310.3" cy="279.3" r="2.9"/>
<circle cx="309.7" cy="281.0" r="2.9"/>
<circle cx="311.3" cy="279.7" r="2.9"/>
<circle cx="310.9" cy="282.1" r="2.9"/>
<circle cx="312.5" cy="281.0" r="2.9"/>
<circle cx="312.0" cy="283.3" r="2.9"/>
<circle cx="311.8" cy="280.4" r="2.9"/>
<circle cx="313.5" cy="282.1" r="2.9"/>
<circle cx="313.3" cy="285.6" r="2.9"/>
<circle cx="313.0" cy="284.9" r="2.9"/>
<circle cx="314.2" cy="284.2" r="2.9"/>
<circle cx="314.2" cy="288.1" r="2.9"/>
<circle cx="314.1" cy="284.9" r="2.9"/>
<circle cx="315.8" cy="286.0" r="2.9"/>
<circle cx="315.4" cy="290.1" r="2.9"/>
<circle cx="315.2" cy="287.5" r="2.9"/>
<circle cx="316.8" cy="287.5" r="2.9"/>
<circle cx="316.4" cy="292.4" r="2.9"/>
<circle cx="316.3" cy="288.6" r="2.9"/>
<circle cx="316.9" cy="289.0" r="2.9"/>
<circle cx="317.6" cy="288.5" r="2.9"/>
<circle cx="317.5" cy="294.8" r="2.9"/>
<circle cx="317.4" cy="292.6" r="2.9"/>
<circle cx="317.6" cy="291.6" r="2.9"/>
<circle cx="319.1" cy="290.0" r="2.9"/>
<circle cx="318.8" cy="295.2" r="2.9"/>
<circle cx="318.5" cy="290.5" r="2.9"/>
<circle cx="319.2" cy="294.9" r="2.9"/>
<circle cx="319.7" cy="290.7" r="2.9"/>
<circle cx="320.0" cy="295.8" r="2.9"/>
<circle cx="319.6" cy="296.4" r="2.9"/>
<circle cx="321.2" cy="292.2" r="2.9"/>
<circle cx="321.0" cy="297.3" r="2.9"/>
<circle cx="320.5" cy="297.2" r="2.9"/>
<circle cx="321.9" cy="293.4" r="2.9"/>
<circle cx="322.0" cy="297.3" r="2.9"/>
<circle cx="322.2" cy="294.3" r="2.9"/>
<circle cx="323.0" cy="294.5" r="2.9"/>
<circle cx="322.9" cy="298.6" r="2.9"/>
<circle cx="323.3" cy="298.1" r="2.9"/>
<circle cx="324.4" cy="294.4" r="2.9"/>
<circle cx="324.6" cy="299.3" r="2.9"/>
<circle cx="323.8" cy="295.6" r="2.9"/>
<circle cx="325.4" cy="294.5" r="2.9"/>
<circle cx="325.2" cy="299.7" r="2.9"/>
<circle cx="325.5" cy="295.2" r="2.9"/>
<circle cx="326.4" cy="295.7" r="2.9"/>
<circle cx="326.8" cy="300.1" r="2.9"/>
<circle cx="326.7" cy="298.3" r="2.9"/>
<circle cx="327.4" cy="295.1" r="2.9"/>
<circle cx="327.3" cy="300.5" r="2.9"/>
<circle cx="327.8" cy="301.2" r="2.9"/>
<circle cx="327.1" cy="299.1" r="2.9"/>
<circle cx="328.7" cy="296.1" r="2.9"/>
<circle cx="328.6" cy="301.1" r="2.9"/>
<circle cx="328.3" cy="299.1" r="2.9"/>
<circle cx="328.9" cy="301.4" r="2.9"/>
<circle cx="329.9" cy="296.4" r="2.9"/>
<circle cx="330.0" cy="301.8" r="2.9"/>
<circle cx="329.7" cy="300.5" r="2.9"/>
<circle cx="330.2" cy="301.8" r="2.9"/>
<circle cx="330.9" cy="297.1" r="2.9"/>
<circle cx="331.1" cy="303.0" r="2.9"/>
<circle cx="331.0" cy="299.1" r="2.9"/>
<circle cx="331.0" cy="300.7" r="2.9"/>
<circle cx="331.7" cy="297.9" r="2.9"/>
<circle cx="332.3" cy="303.7" r="2.9"/>
<circle cx="332.2" cy="300.1" r="2.9"/>
<circle cx="332.2" cy="301.5" r="2.9"/>
<circle cx="333.1" cy="299.0" r="2.9"/>
<circle cx="332.9" cy="304.9" r="2.9"/>
<circle cx="332.6" cy="302.7" r="2.9"/>
<circle cx="333.1" cy="299.9" r="2.9"/>
<circle cx="334.3" cy="299.6" r="2.9"/>
<circle cx="334.3" cy="305.7" r="2.9"/>
<circle cx="334.0" cy="299.2" r="2.9"/>
<circle cx="334.0" cy="304.2" r="2.9"/>
<circle cx="335.1" cy="300.3" r="2.9"/>
<circle cx="335.5" cy="307.0" r="2.9"/>
<circle cx="335.2" cy="306.9" r="2.9"/>
<circle cx="335.1" cy="305.2" r="2.9"/>
<circle cx="336.2" cy="301.5" r="2.9"/>
<circle cx="336.6" cy="307.8" r="2.9"/>
<circle cx="336.8" cy="304.0" r="2.9"/>
<circle cx="336.5" cy="303.5" r="2.9"/>
<circle cx="337.3" cy="302.5" r="2.9"/>
<circle cx="337.7" cy="308.9" r="2.9"/>
<circle cx="337.7" cy="309.4" r="2.9"/>
<circle cx="337.3" cy="303.3" r="2.9"/>
<circle cx="338.6" cy="303.2" r="2.9"/>
<circle cx="338.4" cy="310.4" r="2.9"/>
<circle cx="338.7" cy="306.8" r="2.9"/>
<circle cx="338.4" cy="309.5" r="2.9"/>
<circle cx="340.0" cy="304.5" r="2.9"/>
<circle cx="339.4" cy="312.0" r="2.9"/>
<circle cx="340.1" cy="304.3" r="2.9"/>
<circle cx="339.9" cy="308.6" r="2.9"/>
<circle cx="340.7" cy="305.9" r="2.9"/>
<circle cx="340.5" cy="313.2" r="2.9"/>
<circle cx="340.8" cy="305.3" r="2.9"/>
<circle cx="341.1" cy="307.0" r="2.9"/>
<circle cx="341.7" cy="306.2" r="2.9"/>
<circle cx="342.0" cy="314.1" r="2.9"/>
<circle cx="342.0" cy="311.7" r="2.9"/>
<circle cx="342.2" cy="314.2" r="2.9"/>
<circle cx="343.1" cy="307.5" r="2.9"/>
<circle cx="343.0" cy="315.6" r="2.9"/>
<circle cx="342.5" cy="311.3" r="2.9"/>
<circle cx="343.2" cy="308.8" r="2.9"/>
<circle cx="344.0" cy="307.9" r="2.9"/>
<circle cx="344.2" cy="316.3" r="2.9"/>
<circle cx="344.2" cy="314.5" r="2.9"/>
<circle cx="344.0" cy="314.9" r="2.9"/>
<circle cx="344.5" cy="308.4" r="2.9"/>
<circle cx="345.5" cy="308.6" r="2.9"/>
<circle cx="345.0" cy="317.3" r="2.9"/>
<circle cx="345.3" cy="316.9" r="2.9"/>
<circle cx="345.1" cy="313.5" r="2.9"/>
<circle cx="345.6" cy="315.8" r="2.9"/>
<circle cx="346.6" cy="308.6" r="2.9"/>
<circle cx="346.4" cy="318.6" r="2.9"/>
<circle cx="346.5" cy="316.8" r="2.9"/>
<circle cx="346.4" cy="315.8" r="2.9"/>
<circle cx="346.0" cy="317.7" r="2.9"/>
<circle cx="347.7" cy="309.4" r="2.9"/>
<circle cx="347.4" cy="318.8" r="2.9"/>
<circle cx="347.2" cy="318.6" r="2.9"/>
<circle cx="347.8" cy="312.3" r="2.9"/>
<circle cx="347.0" cy="313.3" r="2.9"/>
<circle cx="348.5" cy="309.4" r="2.9"/>
<circle cx="348.5" cy="320.0" r="2.9"/>
<circle cx="348.8" cy="309.4" r="2.9"/>
<circle cx="348.8" cy="310.6" r="2.9"/>
<circle cx="348.3" cy="317.6" r="2.9"/>
<circle cx="349.4" cy="309.1" r="2.9"/>
<circle cx="349.6" cy="319.8" r="2.9"/>
<circle cx="349.9" cy="316.9" r="2.9"/>
<circle cx="350.0" cy="314.6" r="2.9"/>
<circle cx="350.0" cy="309.9" r="2.9"/>
<circle cx="350.5" cy="309.7" r="2.9"/>
<circle cx="350.6" cy="320.3" r="2.9"/>
<circle cx="350.8" cy="315.4" r="2.9"/>
<circle cx="351.0" cy="315.8" r="2.9"/>
<circle cx="350.5" cy="313.7" r="2.9"/>
<circle cx="352.0" cy="310.3" r="2.9"/>
<circle cx="351.6" cy="320.7" r="2.9"/>
<circle cx="352.3" cy="315.7" r="2.9"/>
<circle cx="351.9" cy="311.8" r="2.9"/>
<circle cx="351.8" cy="315.5" r="2.9"/>
<circle cx="353.0" cy="309.3" r="2.9"/>
<circle cx="353.2" cy="321.0" r="2.9"/>
<circle cx="352.8" cy="319.1" r="2.9"/>
<circle cx="353.0" cy="315.3" r="2.9"/>
<circle cx="353.1" cy="310.1" r="2.9"/>
<circle cx="352.9" cy="314.4" r="2.9"/>
<circle cx="354.3" cy="310.1" r="2.9"/>
<circle cx="353.9" cy="321.0" r="2.9"/>
<circle cx="353.6" cy="314.5" r="2.9"/>
<circle cx="354.3" cy="320.3" r="2.9"/>
<circle cx="354.0" cy="313.1" r="2.9"/>
<circle cx="353.7" cy="316.8" r="2.9"/>
<circle cx="355.4" cy="309.2" r="2.9"/>
<circle cx="355.3" cy="321.4" r="2.9"/>
<circle cx="354.8" cy="311.9" r="2.9"/>
<circle cx="355.3" cy="313.1" r="2.9"/>
<circle cx="355.0" cy="316.7" r="2.9"/>
<circle cx="354.7" cy="318.1" r="2.9"/>
<circle cx="356.0" cy="309.5" r="2.9"/>
<circle cx="356.1" cy="321.2" r="2.9"/>
<circle cx="356.2" cy="314.4" r="2.9"/>
<circle cx="356.1" cy="314.1" r="2.9"/>
<circle cx="356.2" cy="311.0" r="2.9"/>
<circle cx="355.9" cy="316.8" r="2.9"/>
<circle cx="357.4" cy="309.3" r="2.9"/>
<circle cx="357.5" cy="320.7" r="2.9"/>
<circle cx="357.7" cy="311.7" r="2.9"/>
<circle cx="357.5" cy="319.0" r="2.9"/>
<circle cx="357.7" cy="312.7" r="2.9"/>
<circle cx="357.1" cy="320.4" r="2.9"/>
<circle cx="358.2" cy="309.4" r="2.9"/>
<circle cx="358.6" cy="321.0" r="2.9"/>
<circle cx="358.1" cy="317.7" r="2.9"/>
<circle cx="358.2" cy="309.6" r="2.9"/>
<circle cx="358.7" cy="313.8" r="2.9"/>
<circle cx="358.7" cy="310.0" r="2.9"/>
<circle cx="359.4" cy="308.6" r="2.9"/>
<circle cx="359.2" cy="320.6" r="2.9"/>
<circle cx="359.7" cy="319.7" r="2.9"/>
<circle cx="360.0" cy="309.4" r="2.9"/>
<circle cx="359.5" cy="317.7" r="2.9"/>
<circle cx="359.5" cy="316.8" r="2.9"/>
<circle cx="360.4" cy="307.6" r="2.9"/>
<circle cx="360.4" cy="320.4" r="2.9"/>
<circle cx="360.7" cy="314.2" r="2.9"/>
<circle cx="360.7" cy="309.4" r="2.9"/>
<circle cx="360.3" cy="310.1" r="2.9"/>
<circle cx="360.9" cy="320.3" r="2.9"/>
<circle cx="362.0" cy="307.2" r="2.9"/>
<circle cx="361.4" cy="319.1" r="2.9"/>
<circle cx="361.7" cy="317.0" r="2.9"/>
<circle cx="361.5" cy="313.1" r="2.9"/>
<circle cx="361.7" cy="312.7" r="2.9"/>
<circle cx="361.8" cy="307.3" r="2.9"/>
<circle cx="362.9" cy="307.5" r="2.9"/>
<circle cx="362.6" cy="319.2" r="2.9"/>
<circle cx="363.0" cy="311.9" r="2.9"/>
<circle cx="362.5" cy="308.8" r="2.9"/>
<circle cx="362.8" cy="306.9" r="2.9"/>
<circle cx="363.2" cy="317.1" r="2.9"/>
<circle cx="364.0" cy="307.5" r="2.9"/>
<circle cx="364.0" cy="319.3" r="2.9"/>
<circle cx="364.0" cy="313.2" r="2.9"/>
<circle cx="364.4" cy="317.1" r="2.9"/>
<circle cx="363.7" cy="318.5" r="2.9"/>
<circle cx="364.1" cy="316.8" r="2.9"/>
<circle cx="365.2" cy="307.1" r="2.9"/>
<circle cx="365.2" cy="318.9" r="2.9"/>
<circle cx="365.2" cy="316.8" r="2.9"/>
<circle cx="365.3" cy="312.0" r="2.9"/>
<circle cx="365.2" cy="307.6" r="2.9"/>
<circle cx="364.8" cy="312.9" r="2.9"/>
<circle cx="365.8" cy="307.1" r="2.9"/>
<circle cx="366.2" cy="319.3" r="2.9"/>
<circle cx="365.8" cy="319.2" r="2.9"/>
<circle cx="366.3" cy="311.2" r="2.9"/>
<circle cx="366.3" cy="314.3" r="2.9"/>
<circle cx="366.1" cy="311.9" r="2.9"/>
<circle cx="367.5" cy="307.5" r="2.9"/>
<circle cx="367.3" cy="319.3" r="2.9"/>
<circle cx="367.7" cy="307.2" r="2.9"/>
<circle cx="367.3" cy="316.6" r="2.9"/>
<circle cx="367.0" cy="312.1" r="2.9"/>
<circle cx="366.8" cy="309.4" r="2.9"/>
<circle cx="368.2" cy="307.1" r="2.9"/>
<circle cx="368.2" cy="319.3" r="2.9"/>
<circle cx="368.4" cy="313.7" r="2.9"/>
<circle cx="368.8" cy="314.5" r="2.9"/>
<circle cx="368.8" cy="315.4" r="2.9"/>
<circle cx="368.6" cy="308.1" r="2.9"/>
<circle cx="369.5" cy="308.4" r="2.9"/>
<circle cx="369.1" cy="319.6" r="2.9"/>
<circle cx="369.1" cy="313.7" r="2.9"/>
<circle cx="369.1" cy="314.0" r="2.9"/>
<circle cx="369.5" cy="308.4" r="2.9"/>
<circle cx="369.8" cy="313.0" r="2.9"/>
<circle cx="370.5" cy="308.7" r="2.9"/>
<circle cx="370.4" cy="320.6" r="2.9"/>
<circle cx="370.7" cy="315.3" r="2.9"/>
<circle cx="370.3" cy="317.3" r="2.9"/>
<circle cx="370.3" cy="308.3" r="2.9"/>
<circle cx="370.2" cy="308.7" r="2.9"/>
<circle cx="371.4" cy="309.5" r="2.9"/>
<circle cx="371.5" cy="320.3" r="2.9"/>
<circle cx="371.8" cy="309.3" r="2.9"/>
<circle cx="372.1" cy="320.5" r="2.9"/>
<circle cx="371.2" cy="320.0" r="2.9"/>
<circle cx="371.5" cy="314.7" r="2.9"/>
<circle cx="373.0" cy="309.5" r="2.9"/>
<circle cx="372.7" cy="320.6" r="2.9"/>
<circle cx="372.9" cy="315.0" r="2.9"/>
<circle cx="373.2" cy="319.3" r="2.9"/>
<circle cx="372.8" cy="310.7" r="2.9"/>
<circle cx="372.8" cy="314.8" r="2.9"/>
<circle cx="373.6" cy="309.5" r="2.9"/>
<circle cx="373.8" cy="321.6" r="2.9"/>
<circle cx="373.7" cy="317.7" r="2.9"/>
<circle cx="373.8" cy="312.7" r="2.9"/>
<circle cx="373.9" cy="314.6" r="2.9"/>
<circle cx="374.1" cy="316.0" r="2.9"/>
<circle cx="375.2" cy="310.5" r="2.9"/>
<circle cx="375.0" cy="321.8" r="2.9"/>
<circle cx="374.5" cy="320.7" r="2.9"/>
<circle cx="375.2" cy="317.3" r="2.9"/>
<circle cx="374.8" cy="313.0" r="2.9"/>
<circle cx="375.1" cy="316.6" r="2.9"/>
<circle cx="376.1" cy="310.3" r="2.9"/>
<circle cx="376.2" cy="322.1" r="2.9"/>
<circle cx="375.7" cy="322.0" r="2.9"/>
<circle cx="376.4" cy="320.7" r="2.9"/>
<circle cx="375.5" cy="310.5" r="2.9"/>
<circle cx="375.8" cy="315.0" r="2.9"/>
<circle cx="377.2" cy="309.9" r="2.9"/>
<circle cx="377.1" cy="322.4" r="2.9"/>
<circle cx="376.7" cy="318.4" r="2.9"/>
<circle cx="377.2" cy="317.8" r="2.9"/>
<circle cx="377.0" cy="315.9" r="2.9"/>
<circle cx="376.8" cy="314.2" r="2.9"/>
<circle cx="378.3" cy="310.7" r="2.9"/>
<circle cx="377.9" cy="322.6" r="2.9"/>
<circle cx="378.5" cy="317.9" r="2.9"/>
<circle cx="378.5" cy="312.6" r="2.9"/>
<circle cx="378.1" cy="313.2" r="2.9"/>
<circle cx="378.5" cy="314.6" r="2.9"/>
<circle cx="379.4" cy="311.0" r="2.9"/>
<circle cx="379.2" cy="322.4" r="2.9"/>
<circle cx="379.5" cy="321.9" r="2.9"/>
<circle cx="379.2" cy="314.8" r="2.9"/>
<circle cx="378.9" cy="321.3" r="2.9"/>
<circle cx="378.9" cy="311.1" r="2.9"/>
<circle cx="380.4" cy="310.6" r="2.9"/>
<circle cx="380.5" cy="322.9" r="2.9"/>
<circle cx="380.7" cy="311.1" r="2.9"/>
<circle cx="380.1" cy="318.8" r="2.9"/>
<circle cx="380.0" cy="314.1" r="2.9"/>
<circle cx="380.6" cy="319.2" r="2.9"/>
<circle cx="381.4" cy="310.8" r="2.9"/>
<circle cx="381.4" cy="322.7" r="2.9"/>
<circle cx="381.4" cy="312.1" r="2.9"/>
<circle cx="381.7" cy="317.9" r="2.9"/>
<circle cx="381.9" cy="322.7" r="2.9"/>
<circle cx="381.9" cy="316.2" r="2.9"/>
<circle cx="382.8" cy="311.4" r="2.9"/>
<circle cx="382.5" cy="323.3" r="2.9"/>
<circle cx="383.0" cy="322.3" r="2.9"/>
<circle cx="382.3" cy="315.6" r="2.9"/>
<circle cx="382.5" cy="315.7" r="2.9"/>
<circle cx="382.5" cy="316.0" r="2.9"/>
<circle cx="383.5" cy="312.1" r="2.9"/>
<circle cx="383.9" cy="323.4" r="2.9"/>
<circle cx="384.0" cy="318.5" r="2.9"/>
<circle cx="383.4" cy="320.9" r="2.9"/>
<circle cx="384.1" cy="315.1" r="2.9"/>
<circle cx="383.2" cy="317.9" r="2.9"/>
<circle cx="384.8" cy="312.6" r="2.9"/>
<circle cx="385.1" cy="323.5" r="2.9"/>
<circle cx="385.1" cy="312.8" r="2.9"/>
<circle cx="384.8" cy="321.6" r="2.9"/>
<circle cx="384.4" cy="313.0" r="2.9"/>
<circle cx="386.0" cy="313.4" r="2.9"/>
<circle cx="385.7" cy="323.8" r="2.9"/>
<circle cx="385.5" cy="321.4" r="2.9"/>
<circle cx="386.0" cy="315.5" r="2.9"/>
<circle cx="385.6" cy="321.6" r="2.9"/>
<circle cx="387.0" cy="313.8" r="2.9"/>
<circle cx="386.9" cy="324.3" r="2.9"/>
<circle cx="387.5" cy="320.8" r="2.9"/>
<circle cx="387.0" cy="319.3" r="2.9"/>
<circle cx="387.2" cy="321.2" r="2.9"/>
<circle cx="388.3" cy="313.9" r="2.9"/>
<circle cx="388.3" cy="324.2" r="2.9"/>
<circle cx="388.5" cy="322.7" r="2.9"/>
<circle cx="388.4" cy="323.6" r="2.9"/>
<circle cx="388.6" cy="320.8" r="2.9"/>
<circle cx="389.2" cy="314.7" r="2.9"/>
<circle cx="389.4" cy="324.7" r="2.9"/>
<circle cx="389.1" cy="315.6" r="2.9"/>
<circle cx="389.4" cy="325.0" r="2.9"/>
<circle cx="389.1" cy="315.8" r="2.9"/>
<circle cx="390.1" cy="314.9" r="2.9"/>
<circle cx="390.2" cy="324.5" r="2.9"/>
<circle cx="389.9" cy="317.9" r="2.9"/>
<circle cx="389.9" cy="321.6" r="2.9"/>
<circle cx="390.6" cy="316.4" r="2.9"/>
<circle cx="391.1" cy="315.6" r="2.9"/>
<circle cx="391.5" cy="325.3" r="2.9"/>
<circle cx="390.9" cy="316.3" r="2.9"/>
<circle cx="391.1" cy="317.5" r="2.9"/>
<circle cx="391.1" cy="323.0" r="2.9"/>
<circle cx="392.6" cy="316.0" r="2.9"/>
<circle cx="392.3" cy="326.6" r="2.9"/>
<circle cx="392.2" cy="324.1" r="2.9"/>
<circle cx="392.3" cy="321.8" r="2.9"/>
<circle cx="392.8" cy="321.1" r="2.9"/>
<circle cx="393.5" cy="317.3" r="2.9"/>
<circle cx="393.8" cy="327.2" r="2.9"/>
<circle cx="393.6" cy="327.0" r="2.9"/>
<circle cx="393.6" cy="318.9" r="2.9"/>
<circle cx="393.1" cy="326.9" r="2.9"/>
<circle cx="394.9" cy="317.5" r="2.9"/>
<circle cx="394.7" cy="327.7" r="2.9"/>
<circle cx="394.5" cy="328.1" r="2.9"/>
<circle cx="394.9" cy="319.7" r="2.9"/>
<circle cx="394.2" cy="322.3" r="2.9"/>
<circle cx="395.7" cy="318.5" r="2.9"/>
<circle cx="395.9" cy="328.3" r="2.9"/>
<circle cx="395.5" cy="319.5" r="2.9"/>
<circle cx="395.6" cy="320.6" r="2.9"/>
<circle cx="396.2" cy="323.5" r="2.9"/>
<circle cx="397.0" cy="319.4" r="2.9"/>
<circle cx="396.8" cy="329.0" r="2.9"/>
<circle cx="396.6" cy="327.0" r="2.9"/>
<circle cx="396.4" cy="327.5" r="2.9"/>
<circle cx="397.2" cy="327.6" r="2.9"/>
<circle cx="397.7" cy="319.3" r="2.9"/>
<circle cx="398.1" cy="329.9" r="2.9"/>
<circle cx="398.0" cy="324.2" r="2.9"/>
<circle cx="398.5" cy="325.5" r="2.9"/>
<circle cx="398.4" cy="322.3" r="2.9"/>
<circle cx="399.3" cy="320.0" r="2.9"/>
<circle cx="399.4" cy="330.3" r="2.9"/>
<circle cx="399.4" cy="321.9" r="2.9"/>
<circle cx="399.1" cy="325.3" r="2.9"/>
<circle cx="398.8" cy="328.6" r="2.9"/>
</g>
<g fill="#bc96f5" stroke="#a27af0" stroke-width="0.5">
<circle cx="374.6" cy="326.4" r="2.9"/>
<circle cx="394.4" cy="335.4" r="2.9"/>
<circle cx="395.3" cy="330.5" r="2.9"/>
<circle cx="348.0" cy="320.8" r="2.9"/>
<circle cx="354.4" cy="321.4" r="2.9"/>
<circle cx="360.2" cy="320.4" r="2.9"/>
<circle cx="392.6" cy="331.5" r="2.9"/>
<circle cx="336.5" cy="310.5" r="2.9"/>
<circle cx="341.0" cy="314.5" r="2.9"/>
</g>
<path d="M158.60,157.40 C159.17,157.38 160.93,157.25 162.00,157.30 C163.07,157.35 163.98,157.37 165.00,157.70 C166.02,158.03 167.25,158.58 168.10,159.30 C168.95,160.02 169.57,160.77 170.10,162.00 C170.63,163.23 170.92,164.87 171.30,166.70 C171.68,168.53 172.02,170.62 172.40,173.00 C172.78,175.38 173.20,178.72 173.60,181.00 C174.00,183.28 174.37,186.47 174.80,186.70 C175.23,186.93 175.68,183.77 176.20,182.40 C176.72,181.03 177.35,179.47 177.90,178.50 C178.45,177.53 178.85,177.02 179.50,176.60 C180.15,176.18 181.08,175.98 181.80,176.00 C182.52,176.02 183.20,176.28 183.80,176.70 C184.40,177.12 184.88,177.68 185.40,178.50 C185.92,179.32 186.25,179.65 186.90,181.60 C187.55,183.55 188.52,187.20 189.30,190.20 C190.08,193.20 190.88,196.73 191.60,199.60 C192.32,202.47 193.00,205.70 193.60,207.40 C194.20,209.10 194.55,209.87 195.20,209.80 C195.85,209.73 196.72,207.78 197.50,207.00 C198.28,206.22 199.15,205.18 199.90,205.10 C200.65,205.02 201.35,205.58 202.00,206.50 C202.65,207.42 203.22,209.18 203.80,210.60 C204.38,212.02 204.97,213.03 205.50,215.00 C206.03,216.97 206.37,218.73 207.00,222.40 C207.63,226.07 208.63,233.30 209.30,237.00 C209.97,240.70 210.15,243.20 211.00,244.60 C211.85,246.00 213.40,244.83 214.40,245.40 C215.40,245.97 216.02,245.73 217.00,248.00 C217.98,250.27 219.38,256.00 220.30,259.00 C221.22,262.00 221.78,264.08 222.50,266.00 C223.22,267.92 223.93,270.67 224.60,270.50 C225.27,270.33 225.93,267.20 226.50,265.00 C227.07,262.80 227.42,259.97 228.00,257.30 C228.58,254.63 229.30,251.27 230.00,249.00 C230.70,246.73 231.45,245.20 232.20,243.70 C232.95,242.20 233.80,240.70 234.50,240.00 C235.20,239.30 235.75,239.17 236.40,239.50 C237.05,239.83 237.72,240.75 238.40,242.00 C239.08,243.25 239.80,245.32 240.50,247.00 C241.20,248.68 241.68,250.17 242.60,252.10 C243.52,254.03 244.87,258.88 246.00,258.60 C247.13,258.32 248.48,252.25 249.40,250.40 C250.32,248.55 250.80,248.12 251.50,247.50 C252.20,246.88 252.85,246.53 253.60,246.70 C254.35,246.87 255.15,247.60 256.00,248.50 C256.85,249.40 257.40,249.52 258.70,252.10 C260.00,254.68 262.10,261.03 263.80,264.00 C265.50,266.97 267.70,268.68 268.90,269.90 C270.10,271.12 270.15,270.73 271.00,271.30 C271.85,271.87 272.65,271.68 274.00,273.30 C275.35,274.92 277.68,278.98 279.10,281.00 C280.52,283.02 281.35,285.23 282.50,285.40 C283.65,285.57 285.08,282.98 286.00,282.00 C286.92,281.02 287.22,280.13 288.00,279.50 C288.78,278.87 289.87,278.12 290.70,278.20 C291.53,278.28 292.12,278.87 293.00,280.00 C293.88,281.13 294.87,283.17 296.00,285.00 C297.13,286.83 298.63,290.67 299.80,291.00 C300.97,291.33 301.97,288.58 303.00,287.00 C304.03,285.42 304.90,282.78 306.00,281.50 C307.10,280.22 308.43,279.22 309.60,279.30 C310.77,279.38 311.70,280.78 313.00,282.00 C314.30,283.22 316.23,285.33 317.40,286.60 C318.57,287.87 319.03,288.65 320.00,289.60 C320.97,290.55 321.95,291.60 323.20,292.30 C324.45,293.00 326.12,293.25 327.50,293.80 C328.88,294.35 330.08,294.47 331.50,295.60 C332.92,296.73 334.82,299.13 336.00,300.60 C337.18,302.07 337.62,303.13 338.60,304.40 C339.58,305.67 340.70,307.33 341.90,308.20 C343.10,309.07 344.62,309.20 345.80,309.60 C346.98,310.00 347.97,310.15 349.00,310.60 C350.03,311.05 351.08,311.48 352.00,312.30 C352.92,313.12 353.73,314.48 354.50,315.50 C355.27,316.52 355.85,318.12 356.60,318.40 C357.35,318.68 358.05,318.10 359.00,317.20 C359.95,316.30 361.38,314.13 362.30,313.00 C363.22,311.87 363.77,311.00 364.50,310.40 C365.23,309.80 365.78,309.22 366.70,309.40 C367.62,309.58 368.78,310.50 370.00,311.50 C371.22,312.50 372.75,314.12 374.00,315.40 C375.25,316.68 376.45,318.40 377.50,319.20 C378.55,320.00 379.12,320.15 380.30,320.20 C381.48,320.25 383.40,319.43 384.60,319.50 C385.80,319.57 386.53,320.02 387.50,320.60 C388.47,321.18 389.48,322.05 390.40,323.00 C391.32,323.95 392.03,325.22 393.00,326.30 C393.97,327.38 395.10,328.68 396.20,329.50 C397.30,330.32 399.03,330.92 399.60,331.20" stroke="#2a2430" stroke-width="1" fill="none"/>
<rect x="158.6" y="149.2" width="241" height="194.1" fill="none" stroke="#222" stroke-width="1"/>
<path d="M164.75,343.30 v-2.00 M164.75,149.20 v2.00 M180.40,343.30 v-3.50 M180.40,149.20 v3.50 M196.06,343.30 v-2.00 M196.06,149.20 v2.00 M211.71,343.30 v-3.50 M211.71,149.20 v3.50 M227.37,343.30 v-2.00 M227.37,149.20 v2.00 M243.02,343.30 v-3.50 M243.02,149.20 v3.50 M258.68,343.30 v-2.00 M258.68,149.20 v2.00 M274.33,343.30 v-3.50 M274.33,149.20 v3.50 M289.99,343.30 v-2.00 M289.99,149.20 v2.00 M305.64,343.30 v-3.50 M305.64,149.20 v3.50 M321.29,343.30 v-2.00 M321.29,149.20 v2.00 M336.95,343.30 v-3.50 M336.95,149.20 v3.50 M352.61,343.30 v-2.00 M352.61,149.20 v2.00 M368.26,343.30 v-3.50 M368.26,149.20 v3.50 M383.91,343.30 v-2.00 M383.91,149.20 v2.00 M158.60,343.30 h3.50 M399.60,343.30 h-3.50 M158.60,334.01 h2.00 M399.60,334.01 h-2.00 M158.60,328.58 h2.00 M399.60,328.58 h-2.00 M158.60,324.73 h2.00 M399.60,324.73 h-2.00 M158.60,321.74 h2.00 M399.60,321.74 h-2.00 M158.60,319.29 h2.00 M399.60,319.29 h-2.00 M158.60,317.23 h2.00 M399.60,317.23 h-2.00 M158.60,315.44 h2.00 M399.60,315.44 h-2.00 M158.60,313.86 h2.00 M399.60,313.86 h-2.00 M158.60,312.45 h3.50 M399.60,312.45 h-3.50 M158.60,303.16 h2.00 M399.60,303.16 h-2.00 M158.60,297.73 h2.00 M399.60,297.73 h-2.00 M158.60,293.88 h2.00 M399.60,293.88 h-2.00 M158.60,290.89 h2.00 M399.60,290.89 h-2.00 M158.60,288.44 h2.00 M399.60,288.44 h-2.00 M158.60,286.38 h2.00 M399.60,286.38 h-2.00 M158.60,284.59 h2.00 M399.60,284.59 h-2.00 M158.60,283.01 h2.00 M399.60,283.01 h-2.00 M158.60,281.60 h3.50 M399.60,281.60 h-3.50 M158.60,272.31 h2.00 M399.60,272.31 h-2.00 M158.60,266.88 h2.00 M399.60,266.88 h-2.00 M158.60,263.03 h2.00 M399.60,263.03 h-2.00 M158.60,260.04 h2.00 M399.60,260.04 h-2.00 M158.60,257.59 h2.00 M399.60,257.59 h-2.00 M158.60,255.53 h2.00 M399.60,255.53 h-2.00 M158.60,253.74 h2.00 M399.60,253.74 h-2.00 M158.60,252.16 h2.00 M399.60,252.16 h-2.00 M158.60,250.75 h3.50 M399.60,250.75 h-3.50 M158.60,241.46 h2.00 M399.60,241.46 h-2.00 M158.60,236.03 h2.00 M399.60,236.03 h-2.00 M158.60,232.18 h2.00 M399.60,232.18 h-2.00 M158.60,229.19 h2.00 M399.60,229.19 h-2.00 M158.60,226.74 h2.00 M399.60,226.74 h-2.00 M158.60,224.68 h2.00 M399.60,224.68 h-2.00 M158.60,222.89 h2.00 M399.60,222.89 h-2.00 M158.60,221.31 h2.00 M399.60,221.31 h-2.00 M158.60,219.90 h3.50 M399.60,219.90 h-3.50 M158.60,210.61 h2.00 M399.60,210.61 h-2.00 M158.60,205.18 h2.00 M399.60,205.18 h-2.00 M158.60,201.33 h2.00 M399.60,201.33 h-2.00 M158.60,198.34 h2.00 M399.60,198.34 h-2.00 M158.60,195.89 h2.00 M399.60,195.89 h-2.00 M158.60,193.83 h2.00 M399.60,193.83 h-2.00 M158.60,192.04 h2.00 M399.60,192.04 h-2.00 M158.60,190.46 h2.00 M399.60,190.46 h-2.00 M158.60,189.05 h3.50 M399.60,189.05 h-3.50 M158.60,179.76 h2.00 M399.60,179.76 h-2.00 M158.60,174.33 h2.00 M399.60,174.33 h-2.00 M158.60,170.48 h2.00 M399.60,170.48 h-2.00 M158.60,167.49 h2.00 M399.60,167.49 h-2.00 M158.60,165.04 h2.00 M399.60,165.04 h-2.00 M158.60,162.98 h2.00 M399.60,162.98 h-2.00 M158.60,161.19 h2.00 M399.60,161.19 h-2.00 M158.60,159.61 h2.00 M399.60,159.61 h-2.00 M158.60,158.20 h3.50 M399.60,158.20 h-3.50" stroke="#222" stroke-width="1" fill="none"/>
<text x="180.40" y="358.2" font-size="10.8" text-anchor="middle" fill="#111" class="t">1</text>
<text x="211.71" y="358.2" font-size="10.8" text-anchor="middle" fill="#111" class="t">2</text>
<text x="243.02" y="358.2" font-size="10.8" text-anchor="middle" fill="#111" class="t">3</text>
<text x="274.33" y="358.2" font-size="10.8" text-anchor="middle" fill="#111" class="t">4</text>
<text x="305.64" y="358.2" font-size="10.8" text-anchor="middle" fill="#111" class="t">5</text>
<text x="336.95" y="358.2" font-size="10.8" text-anchor="middle" fill="#111" class="t">6</text>
<text x="368.26" y="358.2" font-size="10.8" text-anchor="middle" fill="#111" class="t">7</text>
<text x="399.57" y="358.2" font-size="10.8" text-anchor="middle" fill="#111" class="t">8</text>
<text x="134.6" y="162.30" font-size="12" fill="#111" class="t">10<tspan font-size="7.6" dy="-5.3">0</tspan></text>
<text x="134.6" y="193.15" font-size="12" fill="#111" class="t">10<tspan font-size="7.6" dy="-5.3">-1</tspan></text>
<text x="134.6" y="224.00" font-size="12" fill="#111" class="t">10<tspan font-size="7.6" dy="-5.3">-2</tspan></text>
<text x="134.6" y="254.85" font-size="12" fill="#111" class="t">10<tspan font-size="7.6" dy="-5.3">-3</tspan></text>
<text x="134.6" y="285.70" font-size="12" fill="#111" class="t">10<tspan font-size="7.6" dy="-5.3">-4</tspan></text>
<text x="134.6" y="316.55" font-size="12" fill="#111" class="t">10<tspan font-size="7.6" dy="-5.3">-5</tspan></text>
<text x="134.6" y="347.40" font-size="12" fill="#111" class="t">10<tspan font-size="7.6" dy="-5.3">-6</tspan></text>
<text x="264.7" y="375.1" font-size="12.2" fill="#111" class="t">2</text>
<text transform="translate(271.2,375.1) scale(1.2,1)" font-size="12.2" fill="#111">θ</text>
<text x="281.3" y="375.1" font-size="12.2" fill="#111" class="t" letter-spacing="0.35">[°]</text>
<text transform="translate(122.5,246) rotate(-90)" font-size="12.3" text-anchor="middle" fill="#111" class="t">Intensity [cps]</text>
<text x="113" y="157.5" font-size="12.3" font-weight="bold" fill="#111">(c)</text>
<text x="194.6" y="168" font-size="13.4" font-style="italic" fill="#111" class="t">Stack A</text>
<line x1="171" y1="309.8" x2="194" y2="309.8" stroke="#c9a3f7" stroke-width="1.2"/>
<circle cx="182.5" cy="309.8" r="2.7" fill="#b07af7"/>
<text x="196.3" y="313.5" font-size="9.9" fill="#111" class="t">Data</text>
<line x1="171" y1="321.8" x2="194" y2="321.8" stroke="#333" stroke-width="1"/>
<text x="196.3" y="325.6" font-size="9.9" fill="#111" class="t">Fit</text>
<rect x="305.2" y="159.3" width="85.4" height="18.6" fill="#0b2ec8"/>
<rect x="305.2" y="177.8" width="85.4" height="19" fill="#20d2aa"/>
<rect x="305.2" y="223.6" width="85.4" height="32" fill="url(#sio2)"/>
<rect x="305.2" y="204" width="85.4" height="19.7" fill="#ff90a4"/>
<path d="M305.20,195.60 C307.33,195.53 313.87,195.00 318.00,195.20 C322.13,195.40 326.33,196.40 330.00,196.80 C333.67,197.20 336.67,197.73 340.00,197.60 C343.33,197.47 346.67,196.40 350.00,196.00 C353.33,195.60 356.33,195.10 360.00,195.20 C363.67,195.30 367.83,196.17 372.00,196.60 C376.17,197.03 381.90,197.70 385.00,197.80 C388.10,197.90 389.67,197.30 390.60,197.20 L390.60,207.00 C388.83,206.92 384.27,206.97 380.00,206.50 C375.73,206.03 370.00,204.40 365.00,204.20 C360.00,204.00 355.00,204.92 350.00,205.30 C345.00,205.68 340.00,206.25 335.00,206.50 C330.00,206.75 324.97,206.75 320.00,206.80 C315.03,206.85 307.67,206.80 305.20,206.80 Z" fill="url(#darkband)"/>
<ellipse cx="351" cy="202.3" rx="21" ry="3.4" fill="url(#darkc)"/>
<path d="M305.20,195.60 C307.33,195.53 313.87,195.00 318.00,195.20 C322.13,195.40 326.33,196.40 330.00,196.80 C333.67,197.20 336.67,197.73 340.00,197.60 C343.33,197.47 346.67,196.40 350.00,196.00 C353.33,195.60 356.33,195.10 360.00,195.20 C363.67,195.30 367.83,196.17 372.00,196.60 C376.17,197.03 381.90,197.70 385.00,197.80 C388.10,197.90 389.67,197.30 390.60,197.20" stroke="#9a7a92" stroke-width="0.8" fill="none"/>
<text x="318.6" y="173.2" font-size="12.4" font-weight="bold" font-style="italic" fill="#fff">SiO<tspan font-size="8.8" dy="2.6">2</tspan><tspan dy="-2.6"> 5 nm</tspan></text>
<text x="320.2" y="191.4" font-size="12.4" font-weight="bold" font-style="italic" fill="#fff">Sb 10 nm</text>
<text x="318.9" y="218.2" font-size="12.4" font-weight="bold" font-style="italic" fill="#fff">MeN 6 nm</text>
<text x="312.6" y="238.2" font-size="12.4" font-weight="bold" font-style="italic" fill="#fff">SiO<tspan font-size="8.8" dy="2.6">2</tspan><tspan dy="-2.6"> 100 nm</tspan></text>
</svg></body></html>
